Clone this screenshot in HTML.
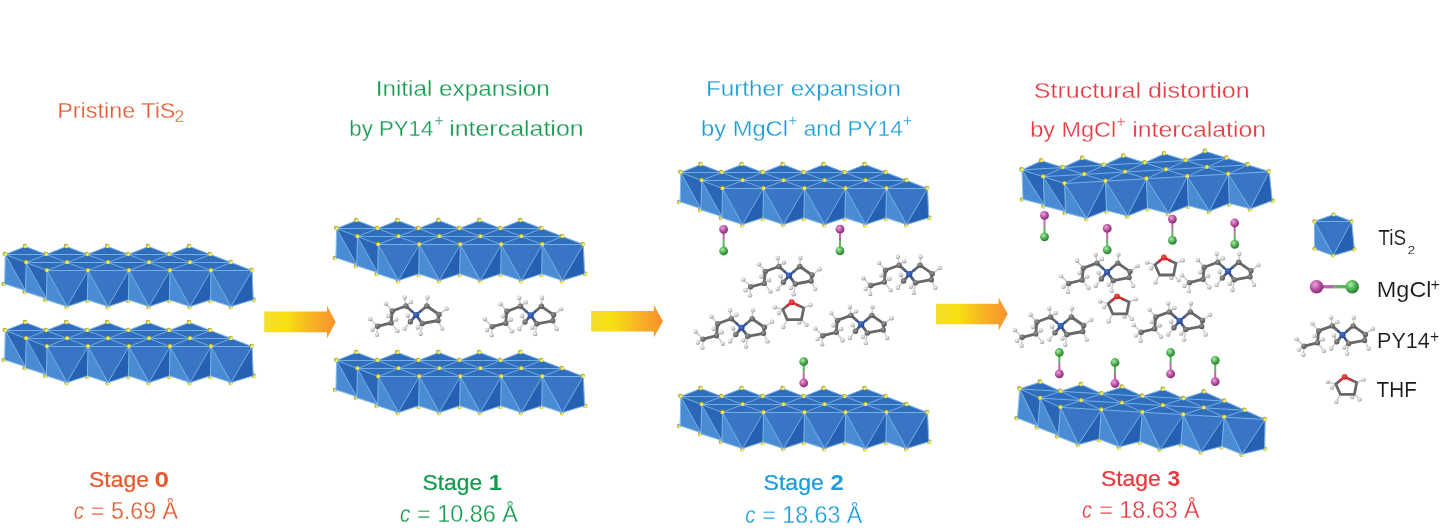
<!DOCTYPE html>
<html><head><meta charset="utf-8"><title>TiS2 intercalation stages</title>
<style>html,body{margin:0;padding:0;background:#fff}svg{display:block;will-change:transform}text{font-family:"Liberation Sans",sans-serif}</style></head>
<body><svg width="1440" height="530" viewBox="0 0 1440 530">
<rect width="1440" height="530" fill="#fff"/>
<defs>
<linearGradient id="ga" x1="0" x2="1" y1="0" y2="0"><stop offset="0" stop-color="#f5de2e"/><stop offset="0.3" stop-color="#f7e011"/><stop offset="0.65" stop-color="#f8b524"/><stop offset="1" stop-color="#f8902e"/></linearGradient>
<radialGradient id="gy" cx="0.6" cy="0.6" r="0.7"><stop offset="0" stop-color="#f9f8ae"/><stop offset="0.35" stop-color="#e7e452"/><stop offset="0.7" stop-color="#b3af36"/><stop offset="1" stop-color="#6c691a"/></radialGradient>
<radialGradient id="gh" cx="0.4" cy="0.35" r="0.7"><stop offset="0" stop-color="#f4f4f4"/><stop offset="0.5" stop-color="#d2d2d2"/><stop offset="1" stop-color="#868686"/></radialGradient>
<radialGradient id="gc" cx="0.4" cy="0.35" r="0.7"><stop offset="0" stop-color="#9a9a9a"/><stop offset="1" stop-color="#4c4c4c"/></radialGradient>
<radialGradient id="gn" cx="0.4" cy="0.35" r="0.7"><stop offset="0" stop-color="#4a74c8"/><stop offset="1" stop-color="#24418c"/></radialGradient>
<radialGradient id="go" cx="0.4" cy="0.35" r="0.7"><stop offset="0" stop-color="#f25a55"/><stop offset="1" stop-color="#c8161c"/></radialGradient>
<radialGradient id="gm" cx="0.38" cy="0.35" r="0.75"><stop offset="0" stop-color="#eba4dc"/><stop offset="0.5" stop-color="#b94fa2"/><stop offset="1" stop-color="#74215f"/></radialGradient>
<radialGradient id="gg" cx="0.38" cy="0.35" r="0.75"><stop offset="0" stop-color="#aeeaaa"/><stop offset="0.5" stop-color="#4bae4f"/><stop offset="1" stop-color="#226a2b"/></radialGradient>

<g id="py14">
<g stroke="#cbcbcb" stroke-width="1.5" stroke-linecap="round">
<line x1="-38.5" y1="11.3" x2="-45.9" y2="4.0"/>
<line x1="-38.5" y1="11.3" x2="-43.6" y2="14.7"/>
<line x1="-38.5" y1="11.3" x2="-39.1" y2="19.8"/>
<line x1="-25.0" y1="7.9" x2="-18.7" y2="15.9"/>
<line x1="-25.0" y1="7.9" x2="-19.9" y2="4.5"/>
<line x1="-23.8" y1="-4.0" x2="-30.1" y2="-11.3"/>
<line x1="-23.8" y1="-4.0" x2="-27.8" y2="1.0"/>
<line x1="-10.2" y1="-9.0" x2="-11.4" y2="-17.5"/>
<line x1="-10.2" y1="-9.0" x2="-5.1" y2="-13.0"/>
<line x1="10.7" y1="-9.0" x2="11.3" y2="-17.5"/>
<line x1="22.9" y1="-0.5" x2="30.5" y2="-6.2"/>
<line x1="22.0" y1="5.5" x2="26.0" y2="13.6"/>
<line x1="6.2" y1="8.5" x2="4.5" y2="18.7"/>
<line x1="6.2" y1="8.5" x2="1.7" y2="12.5"/>
<line x1="-5.7" y1="6.8" x2="-11.4" y2="13.6"/>
<line x1="-5.7" y1="6.8" x2="-8.5" y2="0.5"/>
</g>
<g fill="url(#gh)">
<circle cx="-45.9" cy="4.0" r="2.2"/>
<circle cx="-43.6" cy="14.7" r="2.2"/>
<circle cx="-39.1" cy="19.8" r="2.2"/>
<circle cx="-18.7" cy="15.9" r="2.2"/>
<circle cx="-19.9" cy="4.5" r="2.2"/>
<circle cx="-30.1" cy="-11.3" r="2.2"/>
<circle cx="-27.8" cy="1.0" r="2.2"/>
<circle cx="-11.4" cy="-17.5" r="2.2"/>
<circle cx="-5.1" cy="-13.0" r="2.2"/>
<circle cx="11.3" cy="-17.5" r="2.2"/>
<circle cx="30.5" cy="-6.2" r="2.2"/>
<circle cx="26.0" cy="13.6" r="2.2"/>
<circle cx="4.5" cy="18.7" r="2.2"/>
<circle cx="1.7" cy="12.5" r="2.2"/>
<circle cx="-11.4" cy="13.6" r="2.2"/>
<circle cx="-8.5" cy="0.5" r="2.2"/>
</g>
<g stroke="#686868" stroke-width="2.8" stroke-linecap="round">
<line x1="-38.5" y1="11.3" x2="-25.0" y2="7.9"/>
<line x1="-25.0" y1="7.9" x2="-23.8" y2="-4.0"/>
<line x1="-23.8" y1="-4.0" x2="-10.2" y2="-9.0"/>
<line x1="10.7" y1="-9.0" x2="22.9" y2="-0.5"/>
<line x1="22.9" y1="-0.5" x2="22.0" y2="5.5"/>
<line x1="22.0" y1="5.5" x2="6.2" y2="8.5"/>
<line x1="-10.2" y1="-9.0" x2="-4.3" y2="-3.8"/>
<line x1="10.7" y1="-9.0" x2="4.5" y2="-3.8"/>
<line x1="6.2" y1="8.5" x2="2.6" y2="3.6"/>
<line x1="-5.7" y1="6.8" x2="-2.4" y2="2.9"/>
</g>
<g stroke="#3358a8" stroke-width="2.3" stroke-linecap="round">
<line x1="0" y1="0" x2="-4.3" y2="-3.8"/>
<line x1="0" y1="0" x2="4.5" y2="-3.8"/>
<line x1="0" y1="0" x2="2.6" y2="3.6"/>
<line x1="0" y1="0" x2="-2.4" y2="2.9"/>
</g>
<g fill="url(#gc)">
<circle cx="-38.5" cy="11.3" r="2.7"/>
<circle cx="-25.0" cy="7.9" r="2.7"/>
<circle cx="-23.8" cy="-4.0" r="2.7"/>
<circle cx="-10.2" cy="-9.0" r="2.7"/>
<circle cx="10.7" cy="-9.0" r="2.7"/>
<circle cx="22.9" cy="-0.5" r="2.7"/>
<circle cx="22.0" cy="5.5" r="2.7"/>
<circle cx="6.2" cy="8.5" r="2.7"/>
<circle cx="-5.7" cy="6.8" r="2.7"/>
</g>
<circle cx="0" cy="0" r="3.1" fill="url(#gn)"/>
</g>
<g id="thf">
<g stroke="#cbcbcb" stroke-width="1.5" stroke-linecap="round">
<line x1="-8.8" y1="7.3" x2="-16.8" y2="5.1"/>
<line x1="-8.8" y1="7.3" x2="-12.8" y2="10.8"/>
<line x1="-4.3" y1="17.5" x2="-8.3" y2="24.9"/>
<line x1="9.8" y1="17.5" x2="14.9" y2="22.6"/>
<line x1="9.8" y1="17.5" x2="7.6" y2="20.2"/>
<line x1="12.1" y1="5.7" x2="18.9" y2="2.8"/>
</g><g fill="url(#gh)">
<circle cx="-16.8" cy="5.1" r="2.2"/>
<circle cx="-12.8" cy="10.8" r="2.2"/>
<circle cx="-8.3" cy="24.9" r="2.2"/>
<circle cx="14.9" cy="22.6" r="2.2"/>
<circle cx="7.6" cy="20.2" r="2.2"/>
<circle cx="18.9" cy="2.8" r="2.2"/>
</g>
<g stroke="#686868" stroke-width="2.8" stroke-linecap="round" stroke-linejoin="round" fill="none">
<polyline points="-4.4,3.6 -8.8,7.3 -4.3,17.5 9.8,17.5 12.1,5.7 6.0,2.9"/>
</g>
<g stroke="#e2262a" stroke-width="2.5" stroke-linecap="round" stroke-linejoin="round" fill="none">
<polyline points="-4.4,3.6 0.0,0.0 6.0,2.9"/>
</g>
<circle cx="0" cy="0" r="2.9" fill="url(#go)"/>
</g>
</defs>
<g transform="translate(5.3,254.5)">
<g fill="url(#gy)">
<circle cx="-1.5" cy="29.5" r="2.3"/>
<circle cx="19.4" cy="37.5" r="2.3"/>
<circle cx="40.2" cy="45.5" r="2.3"/>
<circle cx="61.4" cy="52.6" r="2.3"/>
<circle cx="82.1" cy="46.4" r="2.3"/>
<circle cx="102.4" cy="52.6" r="2.3"/>
<circle cx="123.1" cy="46.4" r="2.3"/>
<circle cx="143.4" cy="52.6" r="2.3"/>
<circle cx="164.1" cy="46.4" r="2.3"/>
<circle cx="184.4" cy="52.6" r="2.3"/>
<circle cx="205.1" cy="46.4" r="2.3"/>
<circle cx="225.4" cy="52.6" r="2.3"/>
<circle cx="248.6" cy="45.4" r="2.3"/>
</g>
<g stroke-width="0.5" stroke-linejoin="round">
<polygon points="0.0,0.0 41.0,0.0 20.1,-8.0" fill="#2f6dbd" stroke="#2f6dbd"/>
<polygon points="0.0,0.0 -0.6,29.3 20.0,36.0" fill="#4a8cd3" stroke="#4a8cd3"/>
<polygon points="0.0,0.0 41.0,0.0 20.0,36.0" fill="#2b66b6" stroke="#2b66b6"/>
<polygon points="41.0,0.0 20.0,36.0 40.4,29.3" fill="#2560b3" stroke="#2560b3"/>
<polygon points="41.0,0.0 82.0,0.0 61.1,-8.0" fill="#2f6dbd" stroke="#2f6dbd"/>
<polygon points="41.0,0.0 40.4,29.3 61.0,36.0" fill="#4a8cd3" stroke="#4a8cd3"/>
<polygon points="41.0,0.0 82.0,0.0 61.0,36.0" fill="#2b66b6" stroke="#2b66b6"/>
<polygon points="82.0,0.0 61.0,36.0 81.4,29.3" fill="#2560b3" stroke="#2560b3"/>
<polygon points="82.0,0.0 123.0,0.0 102.2,-8.0" fill="#2f6dbd" stroke="#2f6dbd"/>
<polygon points="82.0,0.0 81.4,29.3 102.0,36.0" fill="#4a8cd3" stroke="#4a8cd3"/>
<polygon points="82.0,0.0 123.0,0.0 102.0,36.0" fill="#2b66b6" stroke="#2b66b6"/>
<polygon points="123.0,0.0 102.0,36.0 122.4,29.3" fill="#2560b3" stroke="#2560b3"/>
<polygon points="123.0,0.0 164.0,0.0 143.2,-8.0" fill="#2f6dbd" stroke="#2f6dbd"/>
<polygon points="123.0,0.0 122.4,29.3 143.0,36.0" fill="#4a8cd3" stroke="#4a8cd3"/>
<polygon points="123.0,0.0 164.0,0.0 143.0,36.0" fill="#2b66b6" stroke="#2b66b6"/>
<polygon points="164.0,0.0 143.0,36.0 163.4,29.3" fill="#2560b3" stroke="#2560b3"/>
<polygon points="164.0,0.0 205.0,0.0 184.2,-8.0" fill="#2f6dbd" stroke="#2f6dbd"/>
<polygon points="164.0,0.0 163.4,29.3 184.0,36.0" fill="#4a8cd3" stroke="#4a8cd3"/>
<polygon points="164.0,0.0 205.0,0.0 184.0,36.0" fill="#2b66b6" stroke="#2b66b6"/>
<polygon points="205.0,0.0 184.0,36.0 204.4,29.3" fill="#2560b3" stroke="#2560b3"/>
<polygon points="20.9,8.0 0.0,0.0 41.0,0.0" fill="#2f6dbd" stroke="#2f6dbd"/>
<polygon points="20.9,8.0 61.9,8.0 41.0,0.0" fill="#2f6dbd" stroke="#2f6dbd"/>
<polygon points="20.9,8.0 20.2,37.3 40.9,44.0" fill="#4a8cd3" stroke="#4a8cd3"/>
<polygon points="20.9,8.0 61.9,8.0 40.9,44.0" fill="#2b66b6" stroke="#2b66b6"/>
<polygon points="61.9,8.0 40.9,44.0 61.2,37.3" fill="#2560b3" stroke="#2560b3"/>
<polygon points="61.9,8.0 41.0,0.0 82.0,0.0" fill="#2f6dbd" stroke="#2f6dbd"/>
<polygon points="61.9,8.0 102.8,8.0 82.0,0.0" fill="#2f6dbd" stroke="#2f6dbd"/>
<polygon points="61.9,8.0 61.2,37.3 81.8,44.0" fill="#4a8cd3" stroke="#4a8cd3"/>
<polygon points="61.9,8.0 102.8,8.0 81.8,44.0" fill="#2b66b6" stroke="#2b66b6"/>
<polygon points="102.8,8.0 81.8,44.0 102.2,37.3" fill="#2560b3" stroke="#2560b3"/>
<polygon points="102.8,8.0 82.0,0.0 123.0,0.0" fill="#2f6dbd" stroke="#2f6dbd"/>
<polygon points="102.8,8.0 143.8,8.0 123.0,0.0" fill="#2f6dbd" stroke="#2f6dbd"/>
<polygon points="102.8,8.0 102.2,37.3 122.8,44.0" fill="#4a8cd3" stroke="#4a8cd3"/>
<polygon points="102.8,8.0 143.8,8.0 122.8,44.0" fill="#2b66b6" stroke="#2b66b6"/>
<polygon points="143.8,8.0 122.8,44.0 143.2,37.3" fill="#2560b3" stroke="#2560b3"/>
<polygon points="143.8,8.0 123.0,0.0 164.0,0.0" fill="#2f6dbd" stroke="#2f6dbd"/>
<polygon points="143.8,8.0 184.8,8.0 164.0,0.0" fill="#2f6dbd" stroke="#2f6dbd"/>
<polygon points="143.8,8.0 143.2,37.3 163.8,44.0" fill="#4a8cd3" stroke="#4a8cd3"/>
<polygon points="143.8,8.0 184.8,8.0 163.8,44.0" fill="#2b66b6" stroke="#2b66b6"/>
<polygon points="184.8,8.0 163.8,44.0 184.2,37.3" fill="#2560b3" stroke="#2560b3"/>
<polygon points="184.8,8.0 164.0,0.0 205.0,0.0" fill="#2f6dbd" stroke="#2f6dbd"/>
<polygon points="184.8,8.0 225.8,8.0 205.0,0.0" fill="#2f6dbd" stroke="#2f6dbd"/>
<polygon points="184.8,8.0 184.2,37.3 204.8,44.0" fill="#4a8cd3" stroke="#4a8cd3"/>
<polygon points="184.8,8.0 225.8,8.0 204.8,44.0" fill="#2b66b6" stroke="#2b66b6"/>
<polygon points="225.8,8.0 204.8,44.0 225.2,37.3" fill="#2560b3" stroke="#2560b3"/>
<polygon points="41.7,16.0 20.9,8.0 61.9,8.0" fill="#2f6dbd" stroke="#2f6dbd"/>
<polygon points="41.7,16.0 82.7,16.0 61.9,8.0" fill="#2f6dbd" stroke="#2f6dbd"/>
<polygon points="41.7,16.0 41.1,45.3 61.7,52.0" fill="#4a8cd3" stroke="#4a8cd3"/>
<polygon points="41.7,16.0 82.7,16.0 61.7,52.0" fill="#3875c4" stroke="#3875c4"/>
<polygon points="82.7,16.0 61.7,52.0 82.1,45.3" fill="#2560b3" stroke="#2560b3"/>
<polygon points="82.7,16.0 61.9,8.0 102.8,8.0" fill="#2f6dbd" stroke="#2f6dbd"/>
<polygon points="82.7,16.0 123.7,16.0 102.8,8.0" fill="#2f6dbd" stroke="#2f6dbd"/>
<polygon points="82.7,16.0 82.1,45.3 102.7,52.0" fill="#4a8cd3" stroke="#4a8cd3"/>
<polygon points="82.7,16.0 123.7,16.0 102.7,52.0" fill="#3875c4" stroke="#3875c4"/>
<polygon points="123.7,16.0 102.7,52.0 123.1,45.3" fill="#2560b3" stroke="#2560b3"/>
<polygon points="123.7,16.0 102.8,8.0 143.8,8.0" fill="#2f6dbd" stroke="#2f6dbd"/>
<polygon points="123.7,16.0 164.7,16.0 143.8,8.0" fill="#2f6dbd" stroke="#2f6dbd"/>
<polygon points="123.7,16.0 123.1,45.3 143.7,52.0" fill="#4a8cd3" stroke="#4a8cd3"/>
<polygon points="123.7,16.0 164.7,16.0 143.7,52.0" fill="#3875c4" stroke="#3875c4"/>
<polygon points="164.7,16.0 143.7,52.0 164.1,45.3" fill="#2560b3" stroke="#2560b3"/>
<polygon points="164.7,16.0 143.8,8.0 184.8,8.0" fill="#2f6dbd" stroke="#2f6dbd"/>
<polygon points="164.7,16.0 205.7,16.0 184.8,8.0" fill="#2f6dbd" stroke="#2f6dbd"/>
<polygon points="164.7,16.0 164.1,45.3 184.7,52.0" fill="#4a8cd3" stroke="#4a8cd3"/>
<polygon points="164.7,16.0 205.7,16.0 184.7,52.0" fill="#3875c4" stroke="#3875c4"/>
<polygon points="205.7,16.0 184.7,52.0 205.1,45.3" fill="#2560b3" stroke="#2560b3"/>
<polygon points="205.7,16.0 184.8,8.0 225.8,8.0" fill="#2f6dbd" stroke="#2f6dbd"/>
<polygon points="205.7,16.0 246.7,16.0 225.8,8.0" fill="#2f6dbd" stroke="#2f6dbd"/>
<polygon points="205.7,16.0 205.1,45.3 225.7,52.0" fill="#4a8cd3" stroke="#4a8cd3"/>
<polygon points="205.7,16.0 246.7,16.0 225.7,52.0" fill="#3875c4" stroke="#3875c4"/>
<polygon points="246.7,16.0 225.7,52.0 247.9,45.2" fill="#2560b3" stroke="#2560b3"/>
</g>
<g stroke="#8cc3ee" stroke-width="0.75" stroke-linecap="round" fill="none">
<line x1="0.0" y1="0.0" x2="-0.6" y2="29.3"/>
<line x1="0.0" y1="0.0" x2="20.0" y2="36.0"/>
<line x1="-0.6" y1="29.3" x2="20.0" y2="36.0"/>
<line x1="20.9" y1="8.0" x2="20.2" y2="37.3"/>
<line x1="20.9" y1="8.0" x2="40.9" y2="44.0"/>
<line x1="20.2" y1="37.3" x2="40.9" y2="44.0"/>
<line x1="41.7" y1="16.0" x2="41.1" y2="45.3"/>
<line x1="41.7" y1="16.0" x2="61.7" y2="52.0"/>
<line x1="41.1" y1="45.3" x2="61.7" y2="52.0"/>
<line x1="82.7" y1="16.0" x2="61.7" y2="52.0"/>
<line x1="61.7" y1="52.0" x2="82.1" y2="45.3"/>
<line x1="82.7" y1="16.0" x2="82.1" y2="45.3"/>
<line x1="82.7" y1="16.0" x2="102.7" y2="52.0"/>
<line x1="82.1" y1="45.3" x2="102.7" y2="52.0"/>
<line x1="123.7" y1="16.0" x2="102.7" y2="52.0"/>
<line x1="102.7" y1="52.0" x2="123.1" y2="45.3"/>
<line x1="123.7" y1="16.0" x2="123.1" y2="45.3"/>
<line x1="123.7" y1="16.0" x2="143.7" y2="52.0"/>
<line x1="123.1" y1="45.3" x2="143.7" y2="52.0"/>
<line x1="164.7" y1="16.0" x2="143.7" y2="52.0"/>
<line x1="143.7" y1="52.0" x2="164.1" y2="45.3"/>
<line x1="164.7" y1="16.0" x2="164.1" y2="45.3"/>
<line x1="164.7" y1="16.0" x2="184.7" y2="52.0"/>
<line x1="164.1" y1="45.3" x2="184.7" y2="52.0"/>
<line x1="205.7" y1="16.0" x2="184.7" y2="52.0"/>
<line x1="184.7" y1="52.0" x2="205.1" y2="45.3"/>
<line x1="205.7" y1="16.0" x2="205.1" y2="45.3"/>
<line x1="205.7" y1="16.0" x2="225.7" y2="52.0"/>
<line x1="205.1" y1="45.3" x2="225.7" y2="52.0"/>
<line x1="246.7" y1="16.0" x2="225.7" y2="52.0"/>
<line x1="225.7" y1="52.0" x2="247.9" y2="45.2"/>
<line x1="246.7" y1="16.0" x2="247.9" y2="45.2"/>
<line x1="0.0" y1="0.0" x2="205.0" y2="0.0"/>
<line x1="20.9" y1="8.0" x2="225.8" y2="8.0"/>
<line x1="41.7" y1="16.0" x2="246.7" y2="16.0"/>
<line x1="0.0" y1="0.0" x2="41.7" y2="16.0"/>
<line x1="20.1" y1="-8.0" x2="82.7" y2="16.0"/>
<line x1="61.1" y1="-8.0" x2="123.7" y2="16.0"/>
<line x1="102.2" y1="-8.0" x2="164.7" y2="16.0"/>
<line x1="143.2" y1="-8.0" x2="205.7" y2="16.0"/>
<line x1="184.2" y1="-8.0" x2="246.7" y2="16.0"/>
<line x1="0.0" y1="0.0" x2="20.1" y2="-8.0"/>
<line x1="20.9" y1="8.0" x2="61.1" y2="-8.0"/>
<line x1="41.7" y1="16.0" x2="102.2" y2="-8.0"/>
<line x1="82.7" y1="16.0" x2="143.2" y2="-8.0"/>
<line x1="123.7" y1="16.0" x2="184.2" y2="-8.0"/>
<line x1="164.7" y1="16.0" x2="205.0" y2="0.0"/>
<line x1="205.7" y1="16.0" x2="225.8" y2="8.0"/>
</g>
<g fill="url(#gy)">
<circle cx="-0.3" cy="-0.5" r="2.3"/>
<circle cx="40.7" cy="-0.5" r="2.3"/>
<circle cx="81.7" cy="-0.5" r="2.3"/>
<circle cx="122.7" cy="-0.5" r="2.3"/>
<circle cx="163.7" cy="-0.5" r="2.3"/>
<circle cx="204.7" cy="-0.5" r="2.3"/>
<circle cx="20.6" cy="7.5" r="2.3"/>
<circle cx="61.6" cy="7.5" r="2.3"/>
<circle cx="102.5" cy="7.5" r="2.3"/>
<circle cx="143.5" cy="7.5" r="2.3"/>
<circle cx="184.5" cy="7.5" r="2.3"/>
<circle cx="225.5" cy="7.5" r="2.3"/>
<circle cx="41.4" cy="15.5" r="2.3"/>
<circle cx="82.4" cy="15.5" r="2.3"/>
<circle cx="123.4" cy="15.5" r="2.3"/>
<circle cx="164.4" cy="15.5" r="2.3"/>
<circle cx="205.4" cy="15.5" r="2.3"/>
<circle cx="246.4" cy="15.5" r="2.3"/>
<circle cx="19.8" cy="-8.5" r="2.3"/>
<circle cx="60.9" cy="-8.5" r="2.3"/>
<circle cx="101.9" cy="-8.5" r="2.3"/>
<circle cx="142.8" cy="-8.5" r="2.3"/>
<circle cx="183.8" cy="-8.5" r="2.3"/>
</g></g>
<g transform="translate(5.3,330.5)">
<g fill="url(#gy)">
<circle cx="-1.5" cy="29.5" r="2.3"/>
<circle cx="19.4" cy="37.5" r="2.3"/>
<circle cx="40.2" cy="45.5" r="2.3"/>
<circle cx="61.4" cy="52.6" r="2.3"/>
<circle cx="82.1" cy="46.4" r="2.3"/>
<circle cx="102.4" cy="52.6" r="2.3"/>
<circle cx="123.1" cy="46.4" r="2.3"/>
<circle cx="143.4" cy="52.6" r="2.3"/>
<circle cx="164.1" cy="46.4" r="2.3"/>
<circle cx="184.4" cy="52.6" r="2.3"/>
<circle cx="205.1" cy="46.4" r="2.3"/>
<circle cx="225.4" cy="52.6" r="2.3"/>
<circle cx="248.6" cy="45.4" r="2.3"/>
</g>
<g stroke-width="0.5" stroke-linejoin="round">
<polygon points="0.0,0.0 41.0,0.0 20.1,-8.0" fill="#2f6dbd" stroke="#2f6dbd"/>
<polygon points="0.0,0.0 -0.6,29.3 20.0,36.0" fill="#4a8cd3" stroke="#4a8cd3"/>
<polygon points="0.0,0.0 41.0,0.0 20.0,36.0" fill="#2b66b6" stroke="#2b66b6"/>
<polygon points="41.0,0.0 20.0,36.0 40.4,29.3" fill="#2560b3" stroke="#2560b3"/>
<polygon points="41.0,0.0 82.0,0.0 61.1,-8.0" fill="#2f6dbd" stroke="#2f6dbd"/>
<polygon points="41.0,0.0 40.4,29.3 61.0,36.0" fill="#4a8cd3" stroke="#4a8cd3"/>
<polygon points="41.0,0.0 82.0,0.0 61.0,36.0" fill="#2b66b6" stroke="#2b66b6"/>
<polygon points="82.0,0.0 61.0,36.0 81.4,29.3" fill="#2560b3" stroke="#2560b3"/>
<polygon points="82.0,0.0 123.0,0.0 102.2,-8.0" fill="#2f6dbd" stroke="#2f6dbd"/>
<polygon points="82.0,0.0 81.4,29.3 102.0,36.0" fill="#4a8cd3" stroke="#4a8cd3"/>
<polygon points="82.0,0.0 123.0,0.0 102.0,36.0" fill="#2b66b6" stroke="#2b66b6"/>
<polygon points="123.0,0.0 102.0,36.0 122.4,29.3" fill="#2560b3" stroke="#2560b3"/>
<polygon points="123.0,0.0 164.0,0.0 143.2,-8.0" fill="#2f6dbd" stroke="#2f6dbd"/>
<polygon points="123.0,0.0 122.4,29.3 143.0,36.0" fill="#4a8cd3" stroke="#4a8cd3"/>
<polygon points="123.0,0.0 164.0,0.0 143.0,36.0" fill="#2b66b6" stroke="#2b66b6"/>
<polygon points="164.0,0.0 143.0,36.0 163.4,29.3" fill="#2560b3" stroke="#2560b3"/>
<polygon points="164.0,0.0 205.0,0.0 184.2,-8.0" fill="#2f6dbd" stroke="#2f6dbd"/>
<polygon points="164.0,0.0 163.4,29.3 184.0,36.0" fill="#4a8cd3" stroke="#4a8cd3"/>
<polygon points="164.0,0.0 205.0,0.0 184.0,36.0" fill="#2b66b6" stroke="#2b66b6"/>
<polygon points="205.0,0.0 184.0,36.0 204.4,29.3" fill="#2560b3" stroke="#2560b3"/>
<polygon points="20.9,8.0 0.0,0.0 41.0,0.0" fill="#2f6dbd" stroke="#2f6dbd"/>
<polygon points="20.9,8.0 61.9,8.0 41.0,0.0" fill="#2f6dbd" stroke="#2f6dbd"/>
<polygon points="20.9,8.0 20.2,37.3 40.9,44.0" fill="#4a8cd3" stroke="#4a8cd3"/>
<polygon points="20.9,8.0 61.9,8.0 40.9,44.0" fill="#2b66b6" stroke="#2b66b6"/>
<polygon points="61.9,8.0 40.9,44.0 61.2,37.3" fill="#2560b3" stroke="#2560b3"/>
<polygon points="61.9,8.0 41.0,0.0 82.0,0.0" fill="#2f6dbd" stroke="#2f6dbd"/>
<polygon points="61.9,8.0 102.8,8.0 82.0,0.0" fill="#2f6dbd" stroke="#2f6dbd"/>
<polygon points="61.9,8.0 61.2,37.3 81.8,44.0" fill="#4a8cd3" stroke="#4a8cd3"/>
<polygon points="61.9,8.0 102.8,8.0 81.8,44.0" fill="#2b66b6" stroke="#2b66b6"/>
<polygon points="102.8,8.0 81.8,44.0 102.2,37.3" fill="#2560b3" stroke="#2560b3"/>
<polygon points="102.8,8.0 82.0,0.0 123.0,0.0" fill="#2f6dbd" stroke="#2f6dbd"/>
<polygon points="102.8,8.0 143.8,8.0 123.0,0.0" fill="#2f6dbd" stroke="#2f6dbd"/>
<polygon points="102.8,8.0 102.2,37.3 122.8,44.0" fill="#4a8cd3" stroke="#4a8cd3"/>
<polygon points="102.8,8.0 143.8,8.0 122.8,44.0" fill="#2b66b6" stroke="#2b66b6"/>
<polygon points="143.8,8.0 122.8,44.0 143.2,37.3" fill="#2560b3" stroke="#2560b3"/>
<polygon points="143.8,8.0 123.0,0.0 164.0,0.0" fill="#2f6dbd" stroke="#2f6dbd"/>
<polygon points="143.8,8.0 184.8,8.0 164.0,0.0" fill="#2f6dbd" stroke="#2f6dbd"/>
<polygon points="143.8,8.0 143.2,37.3 163.8,44.0" fill="#4a8cd3" stroke="#4a8cd3"/>
<polygon points="143.8,8.0 184.8,8.0 163.8,44.0" fill="#2b66b6" stroke="#2b66b6"/>
<polygon points="184.8,8.0 163.8,44.0 184.2,37.3" fill="#2560b3" stroke="#2560b3"/>
<polygon points="184.8,8.0 164.0,0.0 205.0,0.0" fill="#2f6dbd" stroke="#2f6dbd"/>
<polygon points="184.8,8.0 225.8,8.0 205.0,0.0" fill="#2f6dbd" stroke="#2f6dbd"/>
<polygon points="184.8,8.0 184.2,37.3 204.8,44.0" fill="#4a8cd3" stroke="#4a8cd3"/>
<polygon points="184.8,8.0 225.8,8.0 204.8,44.0" fill="#2b66b6" stroke="#2b66b6"/>
<polygon points="225.8,8.0 204.8,44.0 225.2,37.3" fill="#2560b3" stroke="#2560b3"/>
<polygon points="41.7,16.0 20.9,8.0 61.9,8.0" fill="#2f6dbd" stroke="#2f6dbd"/>
<polygon points="41.7,16.0 82.7,16.0 61.9,8.0" fill="#2f6dbd" stroke="#2f6dbd"/>
<polygon points="41.7,16.0 41.1,45.3 61.7,52.0" fill="#4a8cd3" stroke="#4a8cd3"/>
<polygon points="41.7,16.0 82.7,16.0 61.7,52.0" fill="#3875c4" stroke="#3875c4"/>
<polygon points="82.7,16.0 61.7,52.0 82.1,45.3" fill="#2560b3" stroke="#2560b3"/>
<polygon points="82.7,16.0 61.9,8.0 102.8,8.0" fill="#2f6dbd" stroke="#2f6dbd"/>
<polygon points="82.7,16.0 123.7,16.0 102.8,8.0" fill="#2f6dbd" stroke="#2f6dbd"/>
<polygon points="82.7,16.0 82.1,45.3 102.7,52.0" fill="#4a8cd3" stroke="#4a8cd3"/>
<polygon points="82.7,16.0 123.7,16.0 102.7,52.0" fill="#3875c4" stroke="#3875c4"/>
<polygon points="123.7,16.0 102.7,52.0 123.1,45.3" fill="#2560b3" stroke="#2560b3"/>
<polygon points="123.7,16.0 102.8,8.0 143.8,8.0" fill="#2f6dbd" stroke="#2f6dbd"/>
<polygon points="123.7,16.0 164.7,16.0 143.8,8.0" fill="#2f6dbd" stroke="#2f6dbd"/>
<polygon points="123.7,16.0 123.1,45.3 143.7,52.0" fill="#4a8cd3" stroke="#4a8cd3"/>
<polygon points="123.7,16.0 164.7,16.0 143.7,52.0" fill="#3875c4" stroke="#3875c4"/>
<polygon points="164.7,16.0 143.7,52.0 164.1,45.3" fill="#2560b3" stroke="#2560b3"/>
<polygon points="164.7,16.0 143.8,8.0 184.8,8.0" fill="#2f6dbd" stroke="#2f6dbd"/>
<polygon points="164.7,16.0 205.7,16.0 184.8,8.0" fill="#2f6dbd" stroke="#2f6dbd"/>
<polygon points="164.7,16.0 164.1,45.3 184.7,52.0" fill="#4a8cd3" stroke="#4a8cd3"/>
<polygon points="164.7,16.0 205.7,16.0 184.7,52.0" fill="#3875c4" stroke="#3875c4"/>
<polygon points="205.7,16.0 184.7,52.0 205.1,45.3" fill="#2560b3" stroke="#2560b3"/>
<polygon points="205.7,16.0 184.8,8.0 225.8,8.0" fill="#2f6dbd" stroke="#2f6dbd"/>
<polygon points="205.7,16.0 246.7,16.0 225.8,8.0" fill="#2f6dbd" stroke="#2f6dbd"/>
<polygon points="205.7,16.0 205.1,45.3 225.7,52.0" fill="#4a8cd3" stroke="#4a8cd3"/>
<polygon points="205.7,16.0 246.7,16.0 225.7,52.0" fill="#3875c4" stroke="#3875c4"/>
<polygon points="246.7,16.0 225.7,52.0 247.9,45.2" fill="#2560b3" stroke="#2560b3"/>
</g>
<g stroke="#8cc3ee" stroke-width="0.75" stroke-linecap="round" fill="none">
<line x1="0.0" y1="0.0" x2="-0.6" y2="29.3"/>
<line x1="0.0" y1="0.0" x2="20.0" y2="36.0"/>
<line x1="-0.6" y1="29.3" x2="20.0" y2="36.0"/>
<line x1="20.9" y1="8.0" x2="20.2" y2="37.3"/>
<line x1="20.9" y1="8.0" x2="40.9" y2="44.0"/>
<line x1="20.2" y1="37.3" x2="40.9" y2="44.0"/>
<line x1="41.7" y1="16.0" x2="41.1" y2="45.3"/>
<line x1="41.7" y1="16.0" x2="61.7" y2="52.0"/>
<line x1="41.1" y1="45.3" x2="61.7" y2="52.0"/>
<line x1="82.7" y1="16.0" x2="61.7" y2="52.0"/>
<line x1="61.7" y1="52.0" x2="82.1" y2="45.3"/>
<line x1="82.7" y1="16.0" x2="82.1" y2="45.3"/>
<line x1="82.7" y1="16.0" x2="102.7" y2="52.0"/>
<line x1="82.1" y1="45.3" x2="102.7" y2="52.0"/>
<line x1="123.7" y1="16.0" x2="102.7" y2="52.0"/>
<line x1="102.7" y1="52.0" x2="123.1" y2="45.3"/>
<line x1="123.7" y1="16.0" x2="123.1" y2="45.3"/>
<line x1="123.7" y1="16.0" x2="143.7" y2="52.0"/>
<line x1="123.1" y1="45.3" x2="143.7" y2="52.0"/>
<line x1="164.7" y1="16.0" x2="143.7" y2="52.0"/>
<line x1="143.7" y1="52.0" x2="164.1" y2="45.3"/>
<line x1="164.7" y1="16.0" x2="164.1" y2="45.3"/>
<line x1="164.7" y1="16.0" x2="184.7" y2="52.0"/>
<line x1="164.1" y1="45.3" x2="184.7" y2="52.0"/>
<line x1="205.7" y1="16.0" x2="184.7" y2="52.0"/>
<line x1="184.7" y1="52.0" x2="205.1" y2="45.3"/>
<line x1="205.7" y1="16.0" x2="205.1" y2="45.3"/>
<line x1="205.7" y1="16.0" x2="225.7" y2="52.0"/>
<line x1="205.1" y1="45.3" x2="225.7" y2="52.0"/>
<line x1="246.7" y1="16.0" x2="225.7" y2="52.0"/>
<line x1="225.7" y1="52.0" x2="247.9" y2="45.2"/>
<line x1="246.7" y1="16.0" x2="247.9" y2="45.2"/>
<line x1="0.0" y1="0.0" x2="205.0" y2="0.0"/>
<line x1="20.9" y1="8.0" x2="225.8" y2="8.0"/>
<line x1="41.7" y1="16.0" x2="246.7" y2="16.0"/>
<line x1="0.0" y1="0.0" x2="41.7" y2="16.0"/>
<line x1="20.1" y1="-8.0" x2="82.7" y2="16.0"/>
<line x1="61.1" y1="-8.0" x2="123.7" y2="16.0"/>
<line x1="102.2" y1="-8.0" x2="164.7" y2="16.0"/>
<line x1="143.2" y1="-8.0" x2="205.7" y2="16.0"/>
<line x1="184.2" y1="-8.0" x2="246.7" y2="16.0"/>
<line x1="0.0" y1="0.0" x2="20.1" y2="-8.0"/>
<line x1="20.9" y1="8.0" x2="61.1" y2="-8.0"/>
<line x1="41.7" y1="16.0" x2="102.2" y2="-8.0"/>
<line x1="82.7" y1="16.0" x2="143.2" y2="-8.0"/>
<line x1="123.7" y1="16.0" x2="184.2" y2="-8.0"/>
<line x1="164.7" y1="16.0" x2="205.0" y2="0.0"/>
<line x1="205.7" y1="16.0" x2="225.8" y2="8.0"/>
</g>
<g fill="url(#gy)">
<circle cx="-0.3" cy="-0.5" r="2.3"/>
<circle cx="40.7" cy="-0.5" r="2.3"/>
<circle cx="81.7" cy="-0.5" r="2.3"/>
<circle cx="122.7" cy="-0.5" r="2.3"/>
<circle cx="163.7" cy="-0.5" r="2.3"/>
<circle cx="204.7" cy="-0.5" r="2.3"/>
<circle cx="20.6" cy="7.5" r="2.3"/>
<circle cx="61.6" cy="7.5" r="2.3"/>
<circle cx="102.5" cy="7.5" r="2.3"/>
<circle cx="143.5" cy="7.5" r="2.3"/>
<circle cx="184.5" cy="7.5" r="2.3"/>
<circle cx="225.5" cy="7.5" r="2.3"/>
<circle cx="41.4" cy="15.5" r="2.3"/>
<circle cx="82.4" cy="15.5" r="2.3"/>
<circle cx="123.4" cy="15.5" r="2.3"/>
<circle cx="164.4" cy="15.5" r="2.3"/>
<circle cx="205.4" cy="15.5" r="2.3"/>
<circle cx="246.4" cy="15.5" r="2.3"/>
<circle cx="19.8" cy="-8.5" r="2.3"/>
<circle cx="60.9" cy="-8.5" r="2.3"/>
<circle cx="101.9" cy="-8.5" r="2.3"/>
<circle cx="142.8" cy="-8.5" r="2.3"/>
<circle cx="183.8" cy="-8.5" r="2.3"/>
</g></g>
<g transform="translate(336.6,228.5)">
<g fill="url(#gy)">
<circle cx="-1.5" cy="29.5" r="2.3"/>
<circle cx="19.4" cy="37.5" r="2.3"/>
<circle cx="40.2" cy="45.5" r="2.3"/>
<circle cx="61.4" cy="52.6" r="2.3"/>
<circle cx="82.1" cy="46.4" r="2.3"/>
<circle cx="102.4" cy="52.6" r="2.3"/>
<circle cx="123.1" cy="46.4" r="2.3"/>
<circle cx="143.4" cy="52.6" r="2.3"/>
<circle cx="164.1" cy="46.4" r="2.3"/>
<circle cx="184.4" cy="52.6" r="2.3"/>
<circle cx="205.1" cy="46.4" r="2.3"/>
<circle cx="225.4" cy="52.6" r="2.3"/>
<circle cx="248.6" cy="45.4" r="2.3"/>
</g>
<g stroke-width="0.5" stroke-linejoin="round">
<polygon points="0.0,0.0 41.0,0.0 20.1,-8.0" fill="#2f6dbd" stroke="#2f6dbd"/>
<polygon points="0.0,0.0 -0.6,29.3 20.0,36.0" fill="#4a8cd3" stroke="#4a8cd3"/>
<polygon points="0.0,0.0 41.0,0.0 20.0,36.0" fill="#2b66b6" stroke="#2b66b6"/>
<polygon points="41.0,0.0 20.0,36.0 40.4,29.3" fill="#2560b3" stroke="#2560b3"/>
<polygon points="41.0,0.0 82.0,0.0 61.1,-8.0" fill="#2f6dbd" stroke="#2f6dbd"/>
<polygon points="41.0,0.0 40.4,29.3 61.0,36.0" fill="#4a8cd3" stroke="#4a8cd3"/>
<polygon points="41.0,0.0 82.0,0.0 61.0,36.0" fill="#2b66b6" stroke="#2b66b6"/>
<polygon points="82.0,0.0 61.0,36.0 81.4,29.3" fill="#2560b3" stroke="#2560b3"/>
<polygon points="82.0,0.0 123.0,0.0 102.2,-8.0" fill="#2f6dbd" stroke="#2f6dbd"/>
<polygon points="82.0,0.0 81.4,29.3 102.0,36.0" fill="#4a8cd3" stroke="#4a8cd3"/>
<polygon points="82.0,0.0 123.0,0.0 102.0,36.0" fill="#2b66b6" stroke="#2b66b6"/>
<polygon points="123.0,0.0 102.0,36.0 122.4,29.3" fill="#2560b3" stroke="#2560b3"/>
<polygon points="123.0,0.0 164.0,0.0 143.2,-8.0" fill="#2f6dbd" stroke="#2f6dbd"/>
<polygon points="123.0,0.0 122.4,29.3 143.0,36.0" fill="#4a8cd3" stroke="#4a8cd3"/>
<polygon points="123.0,0.0 164.0,0.0 143.0,36.0" fill="#2b66b6" stroke="#2b66b6"/>
<polygon points="164.0,0.0 143.0,36.0 163.4,29.3" fill="#2560b3" stroke="#2560b3"/>
<polygon points="164.0,0.0 205.0,0.0 184.2,-8.0" fill="#2f6dbd" stroke="#2f6dbd"/>
<polygon points="164.0,0.0 163.4,29.3 184.0,36.0" fill="#4a8cd3" stroke="#4a8cd3"/>
<polygon points="164.0,0.0 205.0,0.0 184.0,36.0" fill="#2b66b6" stroke="#2b66b6"/>
<polygon points="205.0,0.0 184.0,36.0 204.4,29.3" fill="#2560b3" stroke="#2560b3"/>
<polygon points="20.9,8.0 0.0,0.0 41.0,0.0" fill="#2f6dbd" stroke="#2f6dbd"/>
<polygon points="20.9,8.0 61.9,8.0 41.0,0.0" fill="#2f6dbd" stroke="#2f6dbd"/>
<polygon points="20.9,8.0 20.2,37.3 40.9,44.0" fill="#4a8cd3" stroke="#4a8cd3"/>
<polygon points="20.9,8.0 61.9,8.0 40.9,44.0" fill="#2b66b6" stroke="#2b66b6"/>
<polygon points="61.9,8.0 40.9,44.0 61.2,37.3" fill="#2560b3" stroke="#2560b3"/>
<polygon points="61.9,8.0 41.0,0.0 82.0,0.0" fill="#2f6dbd" stroke="#2f6dbd"/>
<polygon points="61.9,8.0 102.8,8.0 82.0,0.0" fill="#2f6dbd" stroke="#2f6dbd"/>
<polygon points="61.9,8.0 61.2,37.3 81.8,44.0" fill="#4a8cd3" stroke="#4a8cd3"/>
<polygon points="61.9,8.0 102.8,8.0 81.8,44.0" fill="#2b66b6" stroke="#2b66b6"/>
<polygon points="102.8,8.0 81.8,44.0 102.2,37.3" fill="#2560b3" stroke="#2560b3"/>
<polygon points="102.8,8.0 82.0,0.0 123.0,0.0" fill="#2f6dbd" stroke="#2f6dbd"/>
<polygon points="102.8,8.0 143.8,8.0 123.0,0.0" fill="#2f6dbd" stroke="#2f6dbd"/>
<polygon points="102.8,8.0 102.2,37.3 122.8,44.0" fill="#4a8cd3" stroke="#4a8cd3"/>
<polygon points="102.8,8.0 143.8,8.0 122.8,44.0" fill="#2b66b6" stroke="#2b66b6"/>
<polygon points="143.8,8.0 122.8,44.0 143.2,37.3" fill="#2560b3" stroke="#2560b3"/>
<polygon points="143.8,8.0 123.0,0.0 164.0,0.0" fill="#2f6dbd" stroke="#2f6dbd"/>
<polygon points="143.8,8.0 184.8,8.0 164.0,0.0" fill="#2f6dbd" stroke="#2f6dbd"/>
<polygon points="143.8,8.0 143.2,37.3 163.8,44.0" fill="#4a8cd3" stroke="#4a8cd3"/>
<polygon points="143.8,8.0 184.8,8.0 163.8,44.0" fill="#2b66b6" stroke="#2b66b6"/>
<polygon points="184.8,8.0 163.8,44.0 184.2,37.3" fill="#2560b3" stroke="#2560b3"/>
<polygon points="184.8,8.0 164.0,0.0 205.0,0.0" fill="#2f6dbd" stroke="#2f6dbd"/>
<polygon points="184.8,8.0 225.8,8.0 205.0,0.0" fill="#2f6dbd" stroke="#2f6dbd"/>
<polygon points="184.8,8.0 184.2,37.3 204.8,44.0" fill="#4a8cd3" stroke="#4a8cd3"/>
<polygon points="184.8,8.0 225.8,8.0 204.8,44.0" fill="#2b66b6" stroke="#2b66b6"/>
<polygon points="225.8,8.0 204.8,44.0 225.2,37.3" fill="#2560b3" stroke="#2560b3"/>
<polygon points="41.7,16.0 20.9,8.0 61.9,8.0" fill="#2f6dbd" stroke="#2f6dbd"/>
<polygon points="41.7,16.0 82.7,16.0 61.9,8.0" fill="#2f6dbd" stroke="#2f6dbd"/>
<polygon points="41.7,16.0 41.1,45.3 61.7,52.0" fill="#4a8cd3" stroke="#4a8cd3"/>
<polygon points="41.7,16.0 82.7,16.0 61.7,52.0" fill="#3875c4" stroke="#3875c4"/>
<polygon points="82.7,16.0 61.7,52.0 82.1,45.3" fill="#2560b3" stroke="#2560b3"/>
<polygon points="82.7,16.0 61.9,8.0 102.8,8.0" fill="#2f6dbd" stroke="#2f6dbd"/>
<polygon points="82.7,16.0 123.7,16.0 102.8,8.0" fill="#2f6dbd" stroke="#2f6dbd"/>
<polygon points="82.7,16.0 82.1,45.3 102.7,52.0" fill="#4a8cd3" stroke="#4a8cd3"/>
<polygon points="82.7,16.0 123.7,16.0 102.7,52.0" fill="#3875c4" stroke="#3875c4"/>
<polygon points="123.7,16.0 102.7,52.0 123.1,45.3" fill="#2560b3" stroke="#2560b3"/>
<polygon points="123.7,16.0 102.8,8.0 143.8,8.0" fill="#2f6dbd" stroke="#2f6dbd"/>
<polygon points="123.7,16.0 164.7,16.0 143.8,8.0" fill="#2f6dbd" stroke="#2f6dbd"/>
<polygon points="123.7,16.0 123.1,45.3 143.7,52.0" fill="#4a8cd3" stroke="#4a8cd3"/>
<polygon points="123.7,16.0 164.7,16.0 143.7,52.0" fill="#3875c4" stroke="#3875c4"/>
<polygon points="164.7,16.0 143.7,52.0 164.1,45.3" fill="#2560b3" stroke="#2560b3"/>
<polygon points="164.7,16.0 143.8,8.0 184.8,8.0" fill="#2f6dbd" stroke="#2f6dbd"/>
<polygon points="164.7,16.0 205.7,16.0 184.8,8.0" fill="#2f6dbd" stroke="#2f6dbd"/>
<polygon points="164.7,16.0 164.1,45.3 184.7,52.0" fill="#4a8cd3" stroke="#4a8cd3"/>
<polygon points="164.7,16.0 205.7,16.0 184.7,52.0" fill="#3875c4" stroke="#3875c4"/>
<polygon points="205.7,16.0 184.7,52.0 205.1,45.3" fill="#2560b3" stroke="#2560b3"/>
<polygon points="205.7,16.0 184.8,8.0 225.8,8.0" fill="#2f6dbd" stroke="#2f6dbd"/>
<polygon points="205.7,16.0 246.7,16.0 225.8,8.0" fill="#2f6dbd" stroke="#2f6dbd"/>
<polygon points="205.7,16.0 205.1,45.3 225.7,52.0" fill="#4a8cd3" stroke="#4a8cd3"/>
<polygon points="205.7,16.0 246.7,16.0 225.7,52.0" fill="#3875c4" stroke="#3875c4"/>
<polygon points="246.7,16.0 225.7,52.0 247.9,45.2" fill="#2560b3" stroke="#2560b3"/>
</g>
<g stroke="#8cc3ee" stroke-width="0.75" stroke-linecap="round" fill="none">
<line x1="0.0" y1="0.0" x2="-0.6" y2="29.3"/>
<line x1="0.0" y1="0.0" x2="20.0" y2="36.0"/>
<line x1="-0.6" y1="29.3" x2="20.0" y2="36.0"/>
<line x1="20.9" y1="8.0" x2="20.2" y2="37.3"/>
<line x1="20.9" y1="8.0" x2="40.9" y2="44.0"/>
<line x1="20.2" y1="37.3" x2="40.9" y2="44.0"/>
<line x1="41.7" y1="16.0" x2="41.1" y2="45.3"/>
<line x1="41.7" y1="16.0" x2="61.7" y2="52.0"/>
<line x1="41.1" y1="45.3" x2="61.7" y2="52.0"/>
<line x1="82.7" y1="16.0" x2="61.7" y2="52.0"/>
<line x1="61.7" y1="52.0" x2="82.1" y2="45.3"/>
<line x1="82.7" y1="16.0" x2="82.1" y2="45.3"/>
<line x1="82.7" y1="16.0" x2="102.7" y2="52.0"/>
<line x1="82.1" y1="45.3" x2="102.7" y2="52.0"/>
<line x1="123.7" y1="16.0" x2="102.7" y2="52.0"/>
<line x1="102.7" y1="52.0" x2="123.1" y2="45.3"/>
<line x1="123.7" y1="16.0" x2="123.1" y2="45.3"/>
<line x1="123.7" y1="16.0" x2="143.7" y2="52.0"/>
<line x1="123.1" y1="45.3" x2="143.7" y2="52.0"/>
<line x1="164.7" y1="16.0" x2="143.7" y2="52.0"/>
<line x1="143.7" y1="52.0" x2="164.1" y2="45.3"/>
<line x1="164.7" y1="16.0" x2="164.1" y2="45.3"/>
<line x1="164.7" y1="16.0" x2="184.7" y2="52.0"/>
<line x1="164.1" y1="45.3" x2="184.7" y2="52.0"/>
<line x1="205.7" y1="16.0" x2="184.7" y2="52.0"/>
<line x1="184.7" y1="52.0" x2="205.1" y2="45.3"/>
<line x1="205.7" y1="16.0" x2="205.1" y2="45.3"/>
<line x1="205.7" y1="16.0" x2="225.7" y2="52.0"/>
<line x1="205.1" y1="45.3" x2="225.7" y2="52.0"/>
<line x1="246.7" y1="16.0" x2="225.7" y2="52.0"/>
<line x1="225.7" y1="52.0" x2="247.9" y2="45.2"/>
<line x1="246.7" y1="16.0" x2="247.9" y2="45.2"/>
<line x1="0.0" y1="0.0" x2="205.0" y2="0.0"/>
<line x1="20.9" y1="8.0" x2="225.8" y2="8.0"/>
<line x1="41.7" y1="16.0" x2="246.7" y2="16.0"/>
<line x1="0.0" y1="0.0" x2="41.7" y2="16.0"/>
<line x1="20.1" y1="-8.0" x2="82.7" y2="16.0"/>
<line x1="61.1" y1="-8.0" x2="123.7" y2="16.0"/>
<line x1="102.2" y1="-8.0" x2="164.7" y2="16.0"/>
<line x1="143.2" y1="-8.0" x2="205.7" y2="16.0"/>
<line x1="184.2" y1="-8.0" x2="246.7" y2="16.0"/>
<line x1="0.0" y1="0.0" x2="20.1" y2="-8.0"/>
<line x1="20.9" y1="8.0" x2="61.1" y2="-8.0"/>
<line x1="41.7" y1="16.0" x2="102.2" y2="-8.0"/>
<line x1="82.7" y1="16.0" x2="143.2" y2="-8.0"/>
<line x1="123.7" y1="16.0" x2="184.2" y2="-8.0"/>
<line x1="164.7" y1="16.0" x2="205.0" y2="0.0"/>
<line x1="205.7" y1="16.0" x2="225.8" y2="8.0"/>
</g>
<g fill="url(#gy)">
<circle cx="-0.3" cy="-0.5" r="2.3"/>
<circle cx="40.7" cy="-0.5" r="2.3"/>
<circle cx="81.7" cy="-0.5" r="2.3"/>
<circle cx="122.7" cy="-0.5" r="2.3"/>
<circle cx="163.7" cy="-0.5" r="2.3"/>
<circle cx="204.7" cy="-0.5" r="2.3"/>
<circle cx="20.6" cy="7.5" r="2.3"/>
<circle cx="61.6" cy="7.5" r="2.3"/>
<circle cx="102.5" cy="7.5" r="2.3"/>
<circle cx="143.5" cy="7.5" r="2.3"/>
<circle cx="184.5" cy="7.5" r="2.3"/>
<circle cx="225.5" cy="7.5" r="2.3"/>
<circle cx="41.4" cy="15.5" r="2.3"/>
<circle cx="82.4" cy="15.5" r="2.3"/>
<circle cx="123.4" cy="15.5" r="2.3"/>
<circle cx="164.4" cy="15.5" r="2.3"/>
<circle cx="205.4" cy="15.5" r="2.3"/>
<circle cx="246.4" cy="15.5" r="2.3"/>
<circle cx="19.8" cy="-8.5" r="2.3"/>
<circle cx="60.9" cy="-8.5" r="2.3"/>
<circle cx="101.9" cy="-8.5" r="2.3"/>
<circle cx="142.8" cy="-8.5" r="2.3"/>
<circle cx="183.8" cy="-8.5" r="2.3"/>
</g></g>
<g transform="translate(336.6,360.5)">
<g fill="url(#gy)">
<circle cx="-1.5" cy="29.5" r="2.3"/>
<circle cx="19.4" cy="37.5" r="2.3"/>
<circle cx="40.2" cy="45.5" r="2.3"/>
<circle cx="61.4" cy="52.6" r="2.3"/>
<circle cx="82.1" cy="46.4" r="2.3"/>
<circle cx="102.4" cy="52.6" r="2.3"/>
<circle cx="123.1" cy="46.4" r="2.3"/>
<circle cx="143.4" cy="52.6" r="2.3"/>
<circle cx="164.1" cy="46.4" r="2.3"/>
<circle cx="184.4" cy="52.6" r="2.3"/>
<circle cx="205.1" cy="46.4" r="2.3"/>
<circle cx="225.4" cy="52.6" r="2.3"/>
<circle cx="248.6" cy="45.4" r="2.3"/>
</g>
<g stroke-width="0.5" stroke-linejoin="round">
<polygon points="0.0,0.0 41.0,0.0 20.1,-8.0" fill="#2f6dbd" stroke="#2f6dbd"/>
<polygon points="0.0,0.0 -0.6,29.3 20.0,36.0" fill="#4a8cd3" stroke="#4a8cd3"/>
<polygon points="0.0,0.0 41.0,0.0 20.0,36.0" fill="#2b66b6" stroke="#2b66b6"/>
<polygon points="41.0,0.0 20.0,36.0 40.4,29.3" fill="#2560b3" stroke="#2560b3"/>
<polygon points="41.0,0.0 82.0,0.0 61.1,-8.0" fill="#2f6dbd" stroke="#2f6dbd"/>
<polygon points="41.0,0.0 40.4,29.3 61.0,36.0" fill="#4a8cd3" stroke="#4a8cd3"/>
<polygon points="41.0,0.0 82.0,0.0 61.0,36.0" fill="#2b66b6" stroke="#2b66b6"/>
<polygon points="82.0,0.0 61.0,36.0 81.4,29.3" fill="#2560b3" stroke="#2560b3"/>
<polygon points="82.0,0.0 123.0,0.0 102.2,-8.0" fill="#2f6dbd" stroke="#2f6dbd"/>
<polygon points="82.0,0.0 81.4,29.3 102.0,36.0" fill="#4a8cd3" stroke="#4a8cd3"/>
<polygon points="82.0,0.0 123.0,0.0 102.0,36.0" fill="#2b66b6" stroke="#2b66b6"/>
<polygon points="123.0,0.0 102.0,36.0 122.4,29.3" fill="#2560b3" stroke="#2560b3"/>
<polygon points="123.0,0.0 164.0,0.0 143.2,-8.0" fill="#2f6dbd" stroke="#2f6dbd"/>
<polygon points="123.0,0.0 122.4,29.3 143.0,36.0" fill="#4a8cd3" stroke="#4a8cd3"/>
<polygon points="123.0,0.0 164.0,0.0 143.0,36.0" fill="#2b66b6" stroke="#2b66b6"/>
<polygon points="164.0,0.0 143.0,36.0 163.4,29.3" fill="#2560b3" stroke="#2560b3"/>
<polygon points="164.0,0.0 205.0,0.0 184.2,-8.0" fill="#2f6dbd" stroke="#2f6dbd"/>
<polygon points="164.0,0.0 163.4,29.3 184.0,36.0" fill="#4a8cd3" stroke="#4a8cd3"/>
<polygon points="164.0,0.0 205.0,0.0 184.0,36.0" fill="#2b66b6" stroke="#2b66b6"/>
<polygon points="205.0,0.0 184.0,36.0 204.4,29.3" fill="#2560b3" stroke="#2560b3"/>
<polygon points="20.9,8.0 0.0,0.0 41.0,0.0" fill="#2f6dbd" stroke="#2f6dbd"/>
<polygon points="20.9,8.0 61.9,8.0 41.0,0.0" fill="#2f6dbd" stroke="#2f6dbd"/>
<polygon points="20.9,8.0 20.2,37.3 40.9,44.0" fill="#4a8cd3" stroke="#4a8cd3"/>
<polygon points="20.9,8.0 61.9,8.0 40.9,44.0" fill="#2b66b6" stroke="#2b66b6"/>
<polygon points="61.9,8.0 40.9,44.0 61.2,37.3" fill="#2560b3" stroke="#2560b3"/>
<polygon points="61.9,8.0 41.0,0.0 82.0,0.0" fill="#2f6dbd" stroke="#2f6dbd"/>
<polygon points="61.9,8.0 102.8,8.0 82.0,0.0" fill="#2f6dbd" stroke="#2f6dbd"/>
<polygon points="61.9,8.0 61.2,37.3 81.8,44.0" fill="#4a8cd3" stroke="#4a8cd3"/>
<polygon points="61.9,8.0 102.8,8.0 81.8,44.0" fill="#2b66b6" stroke="#2b66b6"/>
<polygon points="102.8,8.0 81.8,44.0 102.2,37.3" fill="#2560b3" stroke="#2560b3"/>
<polygon points="102.8,8.0 82.0,0.0 123.0,0.0" fill="#2f6dbd" stroke="#2f6dbd"/>
<polygon points="102.8,8.0 143.8,8.0 123.0,0.0" fill="#2f6dbd" stroke="#2f6dbd"/>
<polygon points="102.8,8.0 102.2,37.3 122.8,44.0" fill="#4a8cd3" stroke="#4a8cd3"/>
<polygon points="102.8,8.0 143.8,8.0 122.8,44.0" fill="#2b66b6" stroke="#2b66b6"/>
<polygon points="143.8,8.0 122.8,44.0 143.2,37.3" fill="#2560b3" stroke="#2560b3"/>
<polygon points="143.8,8.0 123.0,0.0 164.0,0.0" fill="#2f6dbd" stroke="#2f6dbd"/>
<polygon points="143.8,8.0 184.8,8.0 164.0,0.0" fill="#2f6dbd" stroke="#2f6dbd"/>
<polygon points="143.8,8.0 143.2,37.3 163.8,44.0" fill="#4a8cd3" stroke="#4a8cd3"/>
<polygon points="143.8,8.0 184.8,8.0 163.8,44.0" fill="#2b66b6" stroke="#2b66b6"/>
<polygon points="184.8,8.0 163.8,44.0 184.2,37.3" fill="#2560b3" stroke="#2560b3"/>
<polygon points="184.8,8.0 164.0,0.0 205.0,0.0" fill="#2f6dbd" stroke="#2f6dbd"/>
<polygon points="184.8,8.0 225.8,8.0 205.0,0.0" fill="#2f6dbd" stroke="#2f6dbd"/>
<polygon points="184.8,8.0 184.2,37.3 204.8,44.0" fill="#4a8cd3" stroke="#4a8cd3"/>
<polygon points="184.8,8.0 225.8,8.0 204.8,44.0" fill="#2b66b6" stroke="#2b66b6"/>
<polygon points="225.8,8.0 204.8,44.0 225.2,37.3" fill="#2560b3" stroke="#2560b3"/>
<polygon points="41.7,16.0 20.9,8.0 61.9,8.0" fill="#2f6dbd" stroke="#2f6dbd"/>
<polygon points="41.7,16.0 82.7,16.0 61.9,8.0" fill="#2f6dbd" stroke="#2f6dbd"/>
<polygon points="41.7,16.0 41.1,45.3 61.7,52.0" fill="#4a8cd3" stroke="#4a8cd3"/>
<polygon points="41.7,16.0 82.7,16.0 61.7,52.0" fill="#3875c4" stroke="#3875c4"/>
<polygon points="82.7,16.0 61.7,52.0 82.1,45.3" fill="#2560b3" stroke="#2560b3"/>
<polygon points="82.7,16.0 61.9,8.0 102.8,8.0" fill="#2f6dbd" stroke="#2f6dbd"/>
<polygon points="82.7,16.0 123.7,16.0 102.8,8.0" fill="#2f6dbd" stroke="#2f6dbd"/>
<polygon points="82.7,16.0 82.1,45.3 102.7,52.0" fill="#4a8cd3" stroke="#4a8cd3"/>
<polygon points="82.7,16.0 123.7,16.0 102.7,52.0" fill="#3875c4" stroke="#3875c4"/>
<polygon points="123.7,16.0 102.7,52.0 123.1,45.3" fill="#2560b3" stroke="#2560b3"/>
<polygon points="123.7,16.0 102.8,8.0 143.8,8.0" fill="#2f6dbd" stroke="#2f6dbd"/>
<polygon points="123.7,16.0 164.7,16.0 143.8,8.0" fill="#2f6dbd" stroke="#2f6dbd"/>
<polygon points="123.7,16.0 123.1,45.3 143.7,52.0" fill="#4a8cd3" stroke="#4a8cd3"/>
<polygon points="123.7,16.0 164.7,16.0 143.7,52.0" fill="#3875c4" stroke="#3875c4"/>
<polygon points="164.7,16.0 143.7,52.0 164.1,45.3" fill="#2560b3" stroke="#2560b3"/>
<polygon points="164.7,16.0 143.8,8.0 184.8,8.0" fill="#2f6dbd" stroke="#2f6dbd"/>
<polygon points="164.7,16.0 205.7,16.0 184.8,8.0" fill="#2f6dbd" stroke="#2f6dbd"/>
<polygon points="164.7,16.0 164.1,45.3 184.7,52.0" fill="#4a8cd3" stroke="#4a8cd3"/>
<polygon points="164.7,16.0 205.7,16.0 184.7,52.0" fill="#3875c4" stroke="#3875c4"/>
<polygon points="205.7,16.0 184.7,52.0 205.1,45.3" fill="#2560b3" stroke="#2560b3"/>
<polygon points="205.7,16.0 184.8,8.0 225.8,8.0" fill="#2f6dbd" stroke="#2f6dbd"/>
<polygon points="205.7,16.0 246.7,16.0 225.8,8.0" fill="#2f6dbd" stroke="#2f6dbd"/>
<polygon points="205.7,16.0 205.1,45.3 225.7,52.0" fill="#4a8cd3" stroke="#4a8cd3"/>
<polygon points="205.7,16.0 246.7,16.0 225.7,52.0" fill="#3875c4" stroke="#3875c4"/>
<polygon points="246.7,16.0 225.7,52.0 247.9,45.2" fill="#2560b3" stroke="#2560b3"/>
</g>
<g stroke="#8cc3ee" stroke-width="0.75" stroke-linecap="round" fill="none">
<line x1="0.0" y1="0.0" x2="-0.6" y2="29.3"/>
<line x1="0.0" y1="0.0" x2="20.0" y2="36.0"/>
<line x1="-0.6" y1="29.3" x2="20.0" y2="36.0"/>
<line x1="20.9" y1="8.0" x2="20.2" y2="37.3"/>
<line x1="20.9" y1="8.0" x2="40.9" y2="44.0"/>
<line x1="20.2" y1="37.3" x2="40.9" y2="44.0"/>
<line x1="41.7" y1="16.0" x2="41.1" y2="45.3"/>
<line x1="41.7" y1="16.0" x2="61.7" y2="52.0"/>
<line x1="41.1" y1="45.3" x2="61.7" y2="52.0"/>
<line x1="82.7" y1="16.0" x2="61.7" y2="52.0"/>
<line x1="61.7" y1="52.0" x2="82.1" y2="45.3"/>
<line x1="82.7" y1="16.0" x2="82.1" y2="45.3"/>
<line x1="82.7" y1="16.0" x2="102.7" y2="52.0"/>
<line x1="82.1" y1="45.3" x2="102.7" y2="52.0"/>
<line x1="123.7" y1="16.0" x2="102.7" y2="52.0"/>
<line x1="102.7" y1="52.0" x2="123.1" y2="45.3"/>
<line x1="123.7" y1="16.0" x2="123.1" y2="45.3"/>
<line x1="123.7" y1="16.0" x2="143.7" y2="52.0"/>
<line x1="123.1" y1="45.3" x2="143.7" y2="52.0"/>
<line x1="164.7" y1="16.0" x2="143.7" y2="52.0"/>
<line x1="143.7" y1="52.0" x2="164.1" y2="45.3"/>
<line x1="164.7" y1="16.0" x2="164.1" y2="45.3"/>
<line x1="164.7" y1="16.0" x2="184.7" y2="52.0"/>
<line x1="164.1" y1="45.3" x2="184.7" y2="52.0"/>
<line x1="205.7" y1="16.0" x2="184.7" y2="52.0"/>
<line x1="184.7" y1="52.0" x2="205.1" y2="45.3"/>
<line x1="205.7" y1="16.0" x2="205.1" y2="45.3"/>
<line x1="205.7" y1="16.0" x2="225.7" y2="52.0"/>
<line x1="205.1" y1="45.3" x2="225.7" y2="52.0"/>
<line x1="246.7" y1="16.0" x2="225.7" y2="52.0"/>
<line x1="225.7" y1="52.0" x2="247.9" y2="45.2"/>
<line x1="246.7" y1="16.0" x2="247.9" y2="45.2"/>
<line x1="0.0" y1="0.0" x2="205.0" y2="0.0"/>
<line x1="20.9" y1="8.0" x2="225.8" y2="8.0"/>
<line x1="41.7" y1="16.0" x2="246.7" y2="16.0"/>
<line x1="0.0" y1="0.0" x2="41.7" y2="16.0"/>
<line x1="20.1" y1="-8.0" x2="82.7" y2="16.0"/>
<line x1="61.1" y1="-8.0" x2="123.7" y2="16.0"/>
<line x1="102.2" y1="-8.0" x2="164.7" y2="16.0"/>
<line x1="143.2" y1="-8.0" x2="205.7" y2="16.0"/>
<line x1="184.2" y1="-8.0" x2="246.7" y2="16.0"/>
<line x1="0.0" y1="0.0" x2="20.1" y2="-8.0"/>
<line x1="20.9" y1="8.0" x2="61.1" y2="-8.0"/>
<line x1="41.7" y1="16.0" x2="102.2" y2="-8.0"/>
<line x1="82.7" y1="16.0" x2="143.2" y2="-8.0"/>
<line x1="123.7" y1="16.0" x2="184.2" y2="-8.0"/>
<line x1="164.7" y1="16.0" x2="205.0" y2="0.0"/>
<line x1="205.7" y1="16.0" x2="225.8" y2="8.0"/>
</g>
<g fill="url(#gy)">
<circle cx="-0.3" cy="-0.5" r="2.3"/>
<circle cx="40.7" cy="-0.5" r="2.3"/>
<circle cx="81.7" cy="-0.5" r="2.3"/>
<circle cx="122.7" cy="-0.5" r="2.3"/>
<circle cx="163.7" cy="-0.5" r="2.3"/>
<circle cx="204.7" cy="-0.5" r="2.3"/>
<circle cx="20.6" cy="7.5" r="2.3"/>
<circle cx="61.6" cy="7.5" r="2.3"/>
<circle cx="102.5" cy="7.5" r="2.3"/>
<circle cx="143.5" cy="7.5" r="2.3"/>
<circle cx="184.5" cy="7.5" r="2.3"/>
<circle cx="225.5" cy="7.5" r="2.3"/>
<circle cx="41.4" cy="15.5" r="2.3"/>
<circle cx="82.4" cy="15.5" r="2.3"/>
<circle cx="123.4" cy="15.5" r="2.3"/>
<circle cx="164.4" cy="15.5" r="2.3"/>
<circle cx="205.4" cy="15.5" r="2.3"/>
<circle cx="246.4" cy="15.5" r="2.3"/>
<circle cx="19.8" cy="-8.5" r="2.3"/>
<circle cx="60.9" cy="-8.5" r="2.3"/>
<circle cx="101.9" cy="-8.5" r="2.3"/>
<circle cx="142.8" cy="-8.5" r="2.3"/>
<circle cx="183.8" cy="-8.5" r="2.3"/>
</g></g>
<g transform="translate(680.8,172.5)">
<g fill="url(#gy)">
<circle cx="-1.5" cy="29.5" r="2.3"/>
<circle cx="19.4" cy="37.5" r="2.3"/>
<circle cx="40.2" cy="45.5" r="2.3"/>
<circle cx="61.4" cy="52.6" r="2.3"/>
<circle cx="82.1" cy="46.4" r="2.3"/>
<circle cx="102.4" cy="52.6" r="2.3"/>
<circle cx="123.1" cy="46.4" r="2.3"/>
<circle cx="143.4" cy="52.6" r="2.3"/>
<circle cx="164.1" cy="46.4" r="2.3"/>
<circle cx="184.4" cy="52.6" r="2.3"/>
<circle cx="205.1" cy="46.4" r="2.3"/>
<circle cx="225.4" cy="52.6" r="2.3"/>
<circle cx="248.6" cy="45.4" r="2.3"/>
</g>
<g stroke-width="0.5" stroke-linejoin="round">
<polygon points="0.0,0.0 41.0,0.0 20.1,-8.0" fill="#2f6dbd" stroke="#2f6dbd"/>
<polygon points="0.0,0.0 -0.6,29.3 20.0,36.0" fill="#4a8cd3" stroke="#4a8cd3"/>
<polygon points="0.0,0.0 41.0,0.0 20.0,36.0" fill="#2b66b6" stroke="#2b66b6"/>
<polygon points="41.0,0.0 20.0,36.0 40.4,29.3" fill="#2560b3" stroke="#2560b3"/>
<polygon points="41.0,0.0 82.0,0.0 61.1,-8.0" fill="#2f6dbd" stroke="#2f6dbd"/>
<polygon points="41.0,0.0 40.4,29.3 61.0,36.0" fill="#4a8cd3" stroke="#4a8cd3"/>
<polygon points="41.0,0.0 82.0,0.0 61.0,36.0" fill="#2b66b6" stroke="#2b66b6"/>
<polygon points="82.0,0.0 61.0,36.0 81.4,29.3" fill="#2560b3" stroke="#2560b3"/>
<polygon points="82.0,0.0 123.0,0.0 102.2,-8.0" fill="#2f6dbd" stroke="#2f6dbd"/>
<polygon points="82.0,0.0 81.4,29.3 102.0,36.0" fill="#4a8cd3" stroke="#4a8cd3"/>
<polygon points="82.0,0.0 123.0,0.0 102.0,36.0" fill="#2b66b6" stroke="#2b66b6"/>
<polygon points="123.0,0.0 102.0,36.0 122.4,29.3" fill="#2560b3" stroke="#2560b3"/>
<polygon points="123.0,0.0 164.0,0.0 143.2,-8.0" fill="#2f6dbd" stroke="#2f6dbd"/>
<polygon points="123.0,0.0 122.4,29.3 143.0,36.0" fill="#4a8cd3" stroke="#4a8cd3"/>
<polygon points="123.0,0.0 164.0,0.0 143.0,36.0" fill="#2b66b6" stroke="#2b66b6"/>
<polygon points="164.0,0.0 143.0,36.0 163.4,29.3" fill="#2560b3" stroke="#2560b3"/>
<polygon points="164.0,0.0 205.0,0.0 184.2,-8.0" fill="#2f6dbd" stroke="#2f6dbd"/>
<polygon points="164.0,0.0 163.4,29.3 184.0,36.0" fill="#4a8cd3" stroke="#4a8cd3"/>
<polygon points="164.0,0.0 205.0,0.0 184.0,36.0" fill="#2b66b6" stroke="#2b66b6"/>
<polygon points="205.0,0.0 184.0,36.0 204.4,29.3" fill="#2560b3" stroke="#2560b3"/>
<polygon points="20.9,8.0 0.0,0.0 41.0,0.0" fill="#2f6dbd" stroke="#2f6dbd"/>
<polygon points="20.9,8.0 61.9,8.0 41.0,0.0" fill="#2f6dbd" stroke="#2f6dbd"/>
<polygon points="20.9,8.0 20.2,37.3 40.9,44.0" fill="#4a8cd3" stroke="#4a8cd3"/>
<polygon points="20.9,8.0 61.9,8.0 40.9,44.0" fill="#2b66b6" stroke="#2b66b6"/>
<polygon points="61.9,8.0 40.9,44.0 61.2,37.3" fill="#2560b3" stroke="#2560b3"/>
<polygon points="61.9,8.0 41.0,0.0 82.0,0.0" fill="#2f6dbd" stroke="#2f6dbd"/>
<polygon points="61.9,8.0 102.8,8.0 82.0,0.0" fill="#2f6dbd" stroke="#2f6dbd"/>
<polygon points="61.9,8.0 61.2,37.3 81.8,44.0" fill="#4a8cd3" stroke="#4a8cd3"/>
<polygon points="61.9,8.0 102.8,8.0 81.8,44.0" fill="#2b66b6" stroke="#2b66b6"/>
<polygon points="102.8,8.0 81.8,44.0 102.2,37.3" fill="#2560b3" stroke="#2560b3"/>
<polygon points="102.8,8.0 82.0,0.0 123.0,0.0" fill="#2f6dbd" stroke="#2f6dbd"/>
<polygon points="102.8,8.0 143.8,8.0 123.0,0.0" fill="#2f6dbd" stroke="#2f6dbd"/>
<polygon points="102.8,8.0 102.2,37.3 122.8,44.0" fill="#4a8cd3" stroke="#4a8cd3"/>
<polygon points="102.8,8.0 143.8,8.0 122.8,44.0" fill="#2b66b6" stroke="#2b66b6"/>
<polygon points="143.8,8.0 122.8,44.0 143.2,37.3" fill="#2560b3" stroke="#2560b3"/>
<polygon points="143.8,8.0 123.0,0.0 164.0,0.0" fill="#2f6dbd" stroke="#2f6dbd"/>
<polygon points="143.8,8.0 184.8,8.0 164.0,0.0" fill="#2f6dbd" stroke="#2f6dbd"/>
<polygon points="143.8,8.0 143.2,37.3 163.8,44.0" fill="#4a8cd3" stroke="#4a8cd3"/>
<polygon points="143.8,8.0 184.8,8.0 163.8,44.0" fill="#2b66b6" stroke="#2b66b6"/>
<polygon points="184.8,8.0 163.8,44.0 184.2,37.3" fill="#2560b3" stroke="#2560b3"/>
<polygon points="184.8,8.0 164.0,0.0 205.0,0.0" fill="#2f6dbd" stroke="#2f6dbd"/>
<polygon points="184.8,8.0 225.8,8.0 205.0,0.0" fill="#2f6dbd" stroke="#2f6dbd"/>
<polygon points="184.8,8.0 184.2,37.3 204.8,44.0" fill="#4a8cd3" stroke="#4a8cd3"/>
<polygon points="184.8,8.0 225.8,8.0 204.8,44.0" fill="#2b66b6" stroke="#2b66b6"/>
<polygon points="225.8,8.0 204.8,44.0 225.2,37.3" fill="#2560b3" stroke="#2560b3"/>
<polygon points="41.7,16.0 20.9,8.0 61.9,8.0" fill="#2f6dbd" stroke="#2f6dbd"/>
<polygon points="41.7,16.0 82.7,16.0 61.9,8.0" fill="#2f6dbd" stroke="#2f6dbd"/>
<polygon points="41.7,16.0 41.1,45.3 61.7,52.0" fill="#4a8cd3" stroke="#4a8cd3"/>
<polygon points="41.7,16.0 82.7,16.0 61.7,52.0" fill="#3875c4" stroke="#3875c4"/>
<polygon points="82.7,16.0 61.7,52.0 82.1,45.3" fill="#2560b3" stroke="#2560b3"/>
<polygon points="82.7,16.0 61.9,8.0 102.8,8.0" fill="#2f6dbd" stroke="#2f6dbd"/>
<polygon points="82.7,16.0 123.7,16.0 102.8,8.0" fill="#2f6dbd" stroke="#2f6dbd"/>
<polygon points="82.7,16.0 82.1,45.3 102.7,52.0" fill="#4a8cd3" stroke="#4a8cd3"/>
<polygon points="82.7,16.0 123.7,16.0 102.7,52.0" fill="#3875c4" stroke="#3875c4"/>
<polygon points="123.7,16.0 102.7,52.0 123.1,45.3" fill="#2560b3" stroke="#2560b3"/>
<polygon points="123.7,16.0 102.8,8.0 143.8,8.0" fill="#2f6dbd" stroke="#2f6dbd"/>
<polygon points="123.7,16.0 164.7,16.0 143.8,8.0" fill="#2f6dbd" stroke="#2f6dbd"/>
<polygon points="123.7,16.0 123.1,45.3 143.7,52.0" fill="#4a8cd3" stroke="#4a8cd3"/>
<polygon points="123.7,16.0 164.7,16.0 143.7,52.0" fill="#3875c4" stroke="#3875c4"/>
<polygon points="164.7,16.0 143.7,52.0 164.1,45.3" fill="#2560b3" stroke="#2560b3"/>
<polygon points="164.7,16.0 143.8,8.0 184.8,8.0" fill="#2f6dbd" stroke="#2f6dbd"/>
<polygon points="164.7,16.0 205.7,16.0 184.8,8.0" fill="#2f6dbd" stroke="#2f6dbd"/>
<polygon points="164.7,16.0 164.1,45.3 184.7,52.0" fill="#4a8cd3" stroke="#4a8cd3"/>
<polygon points="164.7,16.0 205.7,16.0 184.7,52.0" fill="#3875c4" stroke="#3875c4"/>
<polygon points="205.7,16.0 184.7,52.0 205.1,45.3" fill="#2560b3" stroke="#2560b3"/>
<polygon points="205.7,16.0 184.8,8.0 225.8,8.0" fill="#2f6dbd" stroke="#2f6dbd"/>
<polygon points="205.7,16.0 246.7,16.0 225.8,8.0" fill="#2f6dbd" stroke="#2f6dbd"/>
<polygon points="205.7,16.0 205.1,45.3 225.7,52.0" fill="#4a8cd3" stroke="#4a8cd3"/>
<polygon points="205.7,16.0 246.7,16.0 225.7,52.0" fill="#3875c4" stroke="#3875c4"/>
<polygon points="246.7,16.0 225.7,52.0 247.9,45.2" fill="#2560b3" stroke="#2560b3"/>
</g>
<g stroke="#8cc3ee" stroke-width="0.75" stroke-linecap="round" fill="none">
<line x1="0.0" y1="0.0" x2="-0.6" y2="29.3"/>
<line x1="0.0" y1="0.0" x2="20.0" y2="36.0"/>
<line x1="-0.6" y1="29.3" x2="20.0" y2="36.0"/>
<line x1="20.9" y1="8.0" x2="20.2" y2="37.3"/>
<line x1="20.9" y1="8.0" x2="40.9" y2="44.0"/>
<line x1="20.2" y1="37.3" x2="40.9" y2="44.0"/>
<line x1="41.7" y1="16.0" x2="41.1" y2="45.3"/>
<line x1="41.7" y1="16.0" x2="61.7" y2="52.0"/>
<line x1="41.1" y1="45.3" x2="61.7" y2="52.0"/>
<line x1="82.7" y1="16.0" x2="61.7" y2="52.0"/>
<line x1="61.7" y1="52.0" x2="82.1" y2="45.3"/>
<line x1="82.7" y1="16.0" x2="82.1" y2="45.3"/>
<line x1="82.7" y1="16.0" x2="102.7" y2="52.0"/>
<line x1="82.1" y1="45.3" x2="102.7" y2="52.0"/>
<line x1="123.7" y1="16.0" x2="102.7" y2="52.0"/>
<line x1="102.7" y1="52.0" x2="123.1" y2="45.3"/>
<line x1="123.7" y1="16.0" x2="123.1" y2="45.3"/>
<line x1="123.7" y1="16.0" x2="143.7" y2="52.0"/>
<line x1="123.1" y1="45.3" x2="143.7" y2="52.0"/>
<line x1="164.7" y1="16.0" x2="143.7" y2="52.0"/>
<line x1="143.7" y1="52.0" x2="164.1" y2="45.3"/>
<line x1="164.7" y1="16.0" x2="164.1" y2="45.3"/>
<line x1="164.7" y1="16.0" x2="184.7" y2="52.0"/>
<line x1="164.1" y1="45.3" x2="184.7" y2="52.0"/>
<line x1="205.7" y1="16.0" x2="184.7" y2="52.0"/>
<line x1="184.7" y1="52.0" x2="205.1" y2="45.3"/>
<line x1="205.7" y1="16.0" x2="205.1" y2="45.3"/>
<line x1="205.7" y1="16.0" x2="225.7" y2="52.0"/>
<line x1="205.1" y1="45.3" x2="225.7" y2="52.0"/>
<line x1="246.7" y1="16.0" x2="225.7" y2="52.0"/>
<line x1="225.7" y1="52.0" x2="247.9" y2="45.2"/>
<line x1="246.7" y1="16.0" x2="247.9" y2="45.2"/>
<line x1="0.0" y1="0.0" x2="205.0" y2="0.0"/>
<line x1="20.9" y1="8.0" x2="225.8" y2="8.0"/>
<line x1="41.7" y1="16.0" x2="246.7" y2="16.0"/>
<line x1="0.0" y1="0.0" x2="41.7" y2="16.0"/>
<line x1="20.1" y1="-8.0" x2="82.7" y2="16.0"/>
<line x1="61.1" y1="-8.0" x2="123.7" y2="16.0"/>
<line x1="102.2" y1="-8.0" x2="164.7" y2="16.0"/>
<line x1="143.2" y1="-8.0" x2="205.7" y2="16.0"/>
<line x1="184.2" y1="-8.0" x2="246.7" y2="16.0"/>
<line x1="0.0" y1="0.0" x2="20.1" y2="-8.0"/>
<line x1="20.9" y1="8.0" x2="61.1" y2="-8.0"/>
<line x1="41.7" y1="16.0" x2="102.2" y2="-8.0"/>
<line x1="82.7" y1="16.0" x2="143.2" y2="-8.0"/>
<line x1="123.7" y1="16.0" x2="184.2" y2="-8.0"/>
<line x1="164.7" y1="16.0" x2="205.0" y2="0.0"/>
<line x1="205.7" y1="16.0" x2="225.8" y2="8.0"/>
</g>
<g fill="url(#gy)">
<circle cx="-0.3" cy="-0.5" r="2.3"/>
<circle cx="40.7" cy="-0.5" r="2.3"/>
<circle cx="81.7" cy="-0.5" r="2.3"/>
<circle cx="122.7" cy="-0.5" r="2.3"/>
<circle cx="163.7" cy="-0.5" r="2.3"/>
<circle cx="204.7" cy="-0.5" r="2.3"/>
<circle cx="20.6" cy="7.5" r="2.3"/>
<circle cx="61.6" cy="7.5" r="2.3"/>
<circle cx="102.5" cy="7.5" r="2.3"/>
<circle cx="143.5" cy="7.5" r="2.3"/>
<circle cx="184.5" cy="7.5" r="2.3"/>
<circle cx="225.5" cy="7.5" r="2.3"/>
<circle cx="41.4" cy="15.5" r="2.3"/>
<circle cx="82.4" cy="15.5" r="2.3"/>
<circle cx="123.4" cy="15.5" r="2.3"/>
<circle cx="164.4" cy="15.5" r="2.3"/>
<circle cx="205.4" cy="15.5" r="2.3"/>
<circle cx="246.4" cy="15.5" r="2.3"/>
<circle cx="19.8" cy="-8.5" r="2.3"/>
<circle cx="60.9" cy="-8.5" r="2.3"/>
<circle cx="101.9" cy="-8.5" r="2.3"/>
<circle cx="142.8" cy="-8.5" r="2.3"/>
<circle cx="183.8" cy="-8.5" r="2.3"/>
</g></g>
<g transform="translate(680.8,396.5)">
<g fill="url(#gy)">
<circle cx="-1.5" cy="29.5" r="2.3"/>
<circle cx="19.4" cy="37.5" r="2.3"/>
<circle cx="40.2" cy="45.5" r="2.3"/>
<circle cx="61.4" cy="52.6" r="2.3"/>
<circle cx="82.1" cy="46.4" r="2.3"/>
<circle cx="102.4" cy="52.6" r="2.3"/>
<circle cx="123.1" cy="46.4" r="2.3"/>
<circle cx="143.4" cy="52.6" r="2.3"/>
<circle cx="164.1" cy="46.4" r="2.3"/>
<circle cx="184.4" cy="52.6" r="2.3"/>
<circle cx="205.1" cy="46.4" r="2.3"/>
<circle cx="225.4" cy="52.6" r="2.3"/>
<circle cx="248.6" cy="45.4" r="2.3"/>
</g>
<g stroke-width="0.5" stroke-linejoin="round">
<polygon points="0.0,0.0 41.0,0.0 20.1,-8.0" fill="#2f6dbd" stroke="#2f6dbd"/>
<polygon points="0.0,0.0 -0.6,29.3 20.0,36.0" fill="#4a8cd3" stroke="#4a8cd3"/>
<polygon points="0.0,0.0 41.0,0.0 20.0,36.0" fill="#2b66b6" stroke="#2b66b6"/>
<polygon points="41.0,0.0 20.0,36.0 40.4,29.3" fill="#2560b3" stroke="#2560b3"/>
<polygon points="41.0,0.0 82.0,0.0 61.1,-8.0" fill="#2f6dbd" stroke="#2f6dbd"/>
<polygon points="41.0,0.0 40.4,29.3 61.0,36.0" fill="#4a8cd3" stroke="#4a8cd3"/>
<polygon points="41.0,0.0 82.0,0.0 61.0,36.0" fill="#2b66b6" stroke="#2b66b6"/>
<polygon points="82.0,0.0 61.0,36.0 81.4,29.3" fill="#2560b3" stroke="#2560b3"/>
<polygon points="82.0,0.0 123.0,0.0 102.2,-8.0" fill="#2f6dbd" stroke="#2f6dbd"/>
<polygon points="82.0,0.0 81.4,29.3 102.0,36.0" fill="#4a8cd3" stroke="#4a8cd3"/>
<polygon points="82.0,0.0 123.0,0.0 102.0,36.0" fill="#2b66b6" stroke="#2b66b6"/>
<polygon points="123.0,0.0 102.0,36.0 122.4,29.3" fill="#2560b3" stroke="#2560b3"/>
<polygon points="123.0,0.0 164.0,0.0 143.2,-8.0" fill="#2f6dbd" stroke="#2f6dbd"/>
<polygon points="123.0,0.0 122.4,29.3 143.0,36.0" fill="#4a8cd3" stroke="#4a8cd3"/>
<polygon points="123.0,0.0 164.0,0.0 143.0,36.0" fill="#2b66b6" stroke="#2b66b6"/>
<polygon points="164.0,0.0 143.0,36.0 163.4,29.3" fill="#2560b3" stroke="#2560b3"/>
<polygon points="164.0,0.0 205.0,0.0 184.2,-8.0" fill="#2f6dbd" stroke="#2f6dbd"/>
<polygon points="164.0,0.0 163.4,29.3 184.0,36.0" fill="#4a8cd3" stroke="#4a8cd3"/>
<polygon points="164.0,0.0 205.0,0.0 184.0,36.0" fill="#2b66b6" stroke="#2b66b6"/>
<polygon points="205.0,0.0 184.0,36.0 204.4,29.3" fill="#2560b3" stroke="#2560b3"/>
<polygon points="20.9,8.0 0.0,0.0 41.0,0.0" fill="#2f6dbd" stroke="#2f6dbd"/>
<polygon points="20.9,8.0 61.9,8.0 41.0,0.0" fill="#2f6dbd" stroke="#2f6dbd"/>
<polygon points="20.9,8.0 20.2,37.3 40.9,44.0" fill="#4a8cd3" stroke="#4a8cd3"/>
<polygon points="20.9,8.0 61.9,8.0 40.9,44.0" fill="#2b66b6" stroke="#2b66b6"/>
<polygon points="61.9,8.0 40.9,44.0 61.2,37.3" fill="#2560b3" stroke="#2560b3"/>
<polygon points="61.9,8.0 41.0,0.0 82.0,0.0" fill="#2f6dbd" stroke="#2f6dbd"/>
<polygon points="61.9,8.0 102.8,8.0 82.0,0.0" fill="#2f6dbd" stroke="#2f6dbd"/>
<polygon points="61.9,8.0 61.2,37.3 81.8,44.0" fill="#4a8cd3" stroke="#4a8cd3"/>
<polygon points="61.9,8.0 102.8,8.0 81.8,44.0" fill="#2b66b6" stroke="#2b66b6"/>
<polygon points="102.8,8.0 81.8,44.0 102.2,37.3" fill="#2560b3" stroke="#2560b3"/>
<polygon points="102.8,8.0 82.0,0.0 123.0,0.0" fill="#2f6dbd" stroke="#2f6dbd"/>
<polygon points="102.8,8.0 143.8,8.0 123.0,0.0" fill="#2f6dbd" stroke="#2f6dbd"/>
<polygon points="102.8,8.0 102.2,37.3 122.8,44.0" fill="#4a8cd3" stroke="#4a8cd3"/>
<polygon points="102.8,8.0 143.8,8.0 122.8,44.0" fill="#2b66b6" stroke="#2b66b6"/>
<polygon points="143.8,8.0 122.8,44.0 143.2,37.3" fill="#2560b3" stroke="#2560b3"/>
<polygon points="143.8,8.0 123.0,0.0 164.0,0.0" fill="#2f6dbd" stroke="#2f6dbd"/>
<polygon points="143.8,8.0 184.8,8.0 164.0,0.0" fill="#2f6dbd" stroke="#2f6dbd"/>
<polygon points="143.8,8.0 143.2,37.3 163.8,44.0" fill="#4a8cd3" stroke="#4a8cd3"/>
<polygon points="143.8,8.0 184.8,8.0 163.8,44.0" fill="#2b66b6" stroke="#2b66b6"/>
<polygon points="184.8,8.0 163.8,44.0 184.2,37.3" fill="#2560b3" stroke="#2560b3"/>
<polygon points="184.8,8.0 164.0,0.0 205.0,0.0" fill="#2f6dbd" stroke="#2f6dbd"/>
<polygon points="184.8,8.0 225.8,8.0 205.0,0.0" fill="#2f6dbd" stroke="#2f6dbd"/>
<polygon points="184.8,8.0 184.2,37.3 204.8,44.0" fill="#4a8cd3" stroke="#4a8cd3"/>
<polygon points="184.8,8.0 225.8,8.0 204.8,44.0" fill="#2b66b6" stroke="#2b66b6"/>
<polygon points="225.8,8.0 204.8,44.0 225.2,37.3" fill="#2560b3" stroke="#2560b3"/>
<polygon points="41.7,16.0 20.9,8.0 61.9,8.0" fill="#2f6dbd" stroke="#2f6dbd"/>
<polygon points="41.7,16.0 82.7,16.0 61.9,8.0" fill="#2f6dbd" stroke="#2f6dbd"/>
<polygon points="41.7,16.0 41.1,45.3 61.7,52.0" fill="#4a8cd3" stroke="#4a8cd3"/>
<polygon points="41.7,16.0 82.7,16.0 61.7,52.0" fill="#3875c4" stroke="#3875c4"/>
<polygon points="82.7,16.0 61.7,52.0 82.1,45.3" fill="#2560b3" stroke="#2560b3"/>
<polygon points="82.7,16.0 61.9,8.0 102.8,8.0" fill="#2f6dbd" stroke="#2f6dbd"/>
<polygon points="82.7,16.0 123.7,16.0 102.8,8.0" fill="#2f6dbd" stroke="#2f6dbd"/>
<polygon points="82.7,16.0 82.1,45.3 102.7,52.0" fill="#4a8cd3" stroke="#4a8cd3"/>
<polygon points="82.7,16.0 123.7,16.0 102.7,52.0" fill="#3875c4" stroke="#3875c4"/>
<polygon points="123.7,16.0 102.7,52.0 123.1,45.3" fill="#2560b3" stroke="#2560b3"/>
<polygon points="123.7,16.0 102.8,8.0 143.8,8.0" fill="#2f6dbd" stroke="#2f6dbd"/>
<polygon points="123.7,16.0 164.7,16.0 143.8,8.0" fill="#2f6dbd" stroke="#2f6dbd"/>
<polygon points="123.7,16.0 123.1,45.3 143.7,52.0" fill="#4a8cd3" stroke="#4a8cd3"/>
<polygon points="123.7,16.0 164.7,16.0 143.7,52.0" fill="#3875c4" stroke="#3875c4"/>
<polygon points="164.7,16.0 143.7,52.0 164.1,45.3" fill="#2560b3" stroke="#2560b3"/>
<polygon points="164.7,16.0 143.8,8.0 184.8,8.0" fill="#2f6dbd" stroke="#2f6dbd"/>
<polygon points="164.7,16.0 205.7,16.0 184.8,8.0" fill="#2f6dbd" stroke="#2f6dbd"/>
<polygon points="164.7,16.0 164.1,45.3 184.7,52.0" fill="#4a8cd3" stroke="#4a8cd3"/>
<polygon points="164.7,16.0 205.7,16.0 184.7,52.0" fill="#3875c4" stroke="#3875c4"/>
<polygon points="205.7,16.0 184.7,52.0 205.1,45.3" fill="#2560b3" stroke="#2560b3"/>
<polygon points="205.7,16.0 184.8,8.0 225.8,8.0" fill="#2f6dbd" stroke="#2f6dbd"/>
<polygon points="205.7,16.0 246.7,16.0 225.8,8.0" fill="#2f6dbd" stroke="#2f6dbd"/>
<polygon points="205.7,16.0 205.1,45.3 225.7,52.0" fill="#4a8cd3" stroke="#4a8cd3"/>
<polygon points="205.7,16.0 246.7,16.0 225.7,52.0" fill="#3875c4" stroke="#3875c4"/>
<polygon points="246.7,16.0 225.7,52.0 247.9,45.2" fill="#2560b3" stroke="#2560b3"/>
</g>
<g stroke="#8cc3ee" stroke-width="0.75" stroke-linecap="round" fill="none">
<line x1="0.0" y1="0.0" x2="-0.6" y2="29.3"/>
<line x1="0.0" y1="0.0" x2="20.0" y2="36.0"/>
<line x1="-0.6" y1="29.3" x2="20.0" y2="36.0"/>
<line x1="20.9" y1="8.0" x2="20.2" y2="37.3"/>
<line x1="20.9" y1="8.0" x2="40.9" y2="44.0"/>
<line x1="20.2" y1="37.3" x2="40.9" y2="44.0"/>
<line x1="41.7" y1="16.0" x2="41.1" y2="45.3"/>
<line x1="41.7" y1="16.0" x2="61.7" y2="52.0"/>
<line x1="41.1" y1="45.3" x2="61.7" y2="52.0"/>
<line x1="82.7" y1="16.0" x2="61.7" y2="52.0"/>
<line x1="61.7" y1="52.0" x2="82.1" y2="45.3"/>
<line x1="82.7" y1="16.0" x2="82.1" y2="45.3"/>
<line x1="82.7" y1="16.0" x2="102.7" y2="52.0"/>
<line x1="82.1" y1="45.3" x2="102.7" y2="52.0"/>
<line x1="123.7" y1="16.0" x2="102.7" y2="52.0"/>
<line x1="102.7" y1="52.0" x2="123.1" y2="45.3"/>
<line x1="123.7" y1="16.0" x2="123.1" y2="45.3"/>
<line x1="123.7" y1="16.0" x2="143.7" y2="52.0"/>
<line x1="123.1" y1="45.3" x2="143.7" y2="52.0"/>
<line x1="164.7" y1="16.0" x2="143.7" y2="52.0"/>
<line x1="143.7" y1="52.0" x2="164.1" y2="45.3"/>
<line x1="164.7" y1="16.0" x2="164.1" y2="45.3"/>
<line x1="164.7" y1="16.0" x2="184.7" y2="52.0"/>
<line x1="164.1" y1="45.3" x2="184.7" y2="52.0"/>
<line x1="205.7" y1="16.0" x2="184.7" y2="52.0"/>
<line x1="184.7" y1="52.0" x2="205.1" y2="45.3"/>
<line x1="205.7" y1="16.0" x2="205.1" y2="45.3"/>
<line x1="205.7" y1="16.0" x2="225.7" y2="52.0"/>
<line x1="205.1" y1="45.3" x2="225.7" y2="52.0"/>
<line x1="246.7" y1="16.0" x2="225.7" y2="52.0"/>
<line x1="225.7" y1="52.0" x2="247.9" y2="45.2"/>
<line x1="246.7" y1="16.0" x2="247.9" y2="45.2"/>
<line x1="0.0" y1="0.0" x2="205.0" y2="0.0"/>
<line x1="20.9" y1="8.0" x2="225.8" y2="8.0"/>
<line x1="41.7" y1="16.0" x2="246.7" y2="16.0"/>
<line x1="0.0" y1="0.0" x2="41.7" y2="16.0"/>
<line x1="20.1" y1="-8.0" x2="82.7" y2="16.0"/>
<line x1="61.1" y1="-8.0" x2="123.7" y2="16.0"/>
<line x1="102.2" y1="-8.0" x2="164.7" y2="16.0"/>
<line x1="143.2" y1="-8.0" x2="205.7" y2="16.0"/>
<line x1="184.2" y1="-8.0" x2="246.7" y2="16.0"/>
<line x1="0.0" y1="0.0" x2="20.1" y2="-8.0"/>
<line x1="20.9" y1="8.0" x2="61.1" y2="-8.0"/>
<line x1="41.7" y1="16.0" x2="102.2" y2="-8.0"/>
<line x1="82.7" y1="16.0" x2="143.2" y2="-8.0"/>
<line x1="123.7" y1="16.0" x2="184.2" y2="-8.0"/>
<line x1="164.7" y1="16.0" x2="205.0" y2="0.0"/>
<line x1="205.7" y1="16.0" x2="225.8" y2="8.0"/>
</g>
<g fill="url(#gy)">
<circle cx="-0.3" cy="-0.5" r="2.3"/>
<circle cx="40.7" cy="-0.5" r="2.3"/>
<circle cx="81.7" cy="-0.5" r="2.3"/>
<circle cx="122.7" cy="-0.5" r="2.3"/>
<circle cx="163.7" cy="-0.5" r="2.3"/>
<circle cx="204.7" cy="-0.5" r="2.3"/>
<circle cx="20.6" cy="7.5" r="2.3"/>
<circle cx="61.6" cy="7.5" r="2.3"/>
<circle cx="102.5" cy="7.5" r="2.3"/>
<circle cx="143.5" cy="7.5" r="2.3"/>
<circle cx="184.5" cy="7.5" r="2.3"/>
<circle cx="225.5" cy="7.5" r="2.3"/>
<circle cx="41.4" cy="15.5" r="2.3"/>
<circle cx="82.4" cy="15.5" r="2.3"/>
<circle cx="123.4" cy="15.5" r="2.3"/>
<circle cx="164.4" cy="15.5" r="2.3"/>
<circle cx="205.4" cy="15.5" r="2.3"/>
<circle cx="246.4" cy="15.5" r="2.3"/>
<circle cx="19.8" cy="-8.5" r="2.3"/>
<circle cx="60.9" cy="-8.5" r="2.3"/>
<circle cx="101.9" cy="-8.5" r="2.3"/>
<circle cx="142.8" cy="-8.5" r="2.3"/>
<circle cx="183.8" cy="-8.5" r="2.3"/>
</g></g>
<g transform="translate(1022,169.9) rotate(-3.3)">
<g fill="url(#gy)">
<circle cx="-1.5" cy="29.5" r="2.3"/>
<circle cx="19.4" cy="37.5" r="2.3"/>
<circle cx="40.2" cy="45.5" r="2.3"/>
<circle cx="61.4" cy="52.6" r="2.3"/>
<circle cx="82.1" cy="46.4" r="2.3"/>
<circle cx="102.4" cy="52.6" r="2.3"/>
<circle cx="123.1" cy="46.4" r="2.3"/>
<circle cx="143.4" cy="52.6" r="2.3"/>
<circle cx="164.1" cy="46.4" r="2.3"/>
<circle cx="184.4" cy="52.6" r="2.3"/>
<circle cx="205.1" cy="46.4" r="2.3"/>
<circle cx="225.4" cy="52.6" r="2.3"/>
<circle cx="248.6" cy="45.4" r="2.3"/>
</g>
<g stroke-width="0.5" stroke-linejoin="round">
<polygon points="0.0,0.0 41.0,0.0 20.1,-8.0" fill="#2f6dbd" stroke="#2f6dbd"/>
<polygon points="0.0,0.0 -0.6,29.3 20.0,36.0" fill="#4a8cd3" stroke="#4a8cd3"/>
<polygon points="0.0,0.0 41.0,0.0 20.0,36.0" fill="#2b66b6" stroke="#2b66b6"/>
<polygon points="41.0,0.0 20.0,36.0 40.4,29.3" fill="#2560b3" stroke="#2560b3"/>
<polygon points="41.0,0.0 82.0,0.0 61.1,-8.0" fill="#2f6dbd" stroke="#2f6dbd"/>
<polygon points="41.0,0.0 40.4,29.3 61.0,36.0" fill="#4a8cd3" stroke="#4a8cd3"/>
<polygon points="41.0,0.0 82.0,0.0 61.0,36.0" fill="#2b66b6" stroke="#2b66b6"/>
<polygon points="82.0,0.0 61.0,36.0 81.4,29.3" fill="#2560b3" stroke="#2560b3"/>
<polygon points="82.0,0.0 123.0,0.0 102.2,-8.0" fill="#2f6dbd" stroke="#2f6dbd"/>
<polygon points="82.0,0.0 81.4,29.3 102.0,36.0" fill="#4a8cd3" stroke="#4a8cd3"/>
<polygon points="82.0,0.0 123.0,0.0 102.0,36.0" fill="#2b66b6" stroke="#2b66b6"/>
<polygon points="123.0,0.0 102.0,36.0 122.4,29.3" fill="#2560b3" stroke="#2560b3"/>
<polygon points="123.0,0.0 164.0,0.0 143.2,-8.0" fill="#2f6dbd" stroke="#2f6dbd"/>
<polygon points="123.0,0.0 122.4,29.3 143.0,36.0" fill="#4a8cd3" stroke="#4a8cd3"/>
<polygon points="123.0,0.0 164.0,0.0 143.0,36.0" fill="#2b66b6" stroke="#2b66b6"/>
<polygon points="164.0,0.0 143.0,36.0 163.4,29.3" fill="#2560b3" stroke="#2560b3"/>
<polygon points="164.0,0.0 205.0,0.0 184.2,-8.0" fill="#2f6dbd" stroke="#2f6dbd"/>
<polygon points="164.0,0.0 163.4,29.3 184.0,36.0" fill="#4a8cd3" stroke="#4a8cd3"/>
<polygon points="164.0,0.0 205.0,0.0 184.0,36.0" fill="#2b66b6" stroke="#2b66b6"/>
<polygon points="205.0,0.0 184.0,36.0 204.4,29.3" fill="#2560b3" stroke="#2560b3"/>
<polygon points="20.9,8.0 0.0,0.0 41.0,0.0" fill="#2f6dbd" stroke="#2f6dbd"/>
<polygon points="20.9,8.0 61.9,8.0 41.0,0.0" fill="#2f6dbd" stroke="#2f6dbd"/>
<polygon points="20.9,8.0 20.2,37.3 40.9,44.0" fill="#4a8cd3" stroke="#4a8cd3"/>
<polygon points="20.9,8.0 61.9,8.0 40.9,44.0" fill="#2b66b6" stroke="#2b66b6"/>
<polygon points="61.9,8.0 40.9,44.0 61.2,37.3" fill="#2560b3" stroke="#2560b3"/>
<polygon points="61.9,8.0 41.0,0.0 82.0,0.0" fill="#2f6dbd" stroke="#2f6dbd"/>
<polygon points="61.9,8.0 102.8,8.0 82.0,0.0" fill="#2f6dbd" stroke="#2f6dbd"/>
<polygon points="61.9,8.0 61.2,37.3 81.8,44.0" fill="#4a8cd3" stroke="#4a8cd3"/>
<polygon points="61.9,8.0 102.8,8.0 81.8,44.0" fill="#2b66b6" stroke="#2b66b6"/>
<polygon points="102.8,8.0 81.8,44.0 102.2,37.3" fill="#2560b3" stroke="#2560b3"/>
<polygon points="102.8,8.0 82.0,0.0 123.0,0.0" fill="#2f6dbd" stroke="#2f6dbd"/>
<polygon points="102.8,8.0 143.8,8.0 123.0,0.0" fill="#2f6dbd" stroke="#2f6dbd"/>
<polygon points="102.8,8.0 102.2,37.3 122.8,44.0" fill="#4a8cd3" stroke="#4a8cd3"/>
<polygon points="102.8,8.0 143.8,8.0 122.8,44.0" fill="#2b66b6" stroke="#2b66b6"/>
<polygon points="143.8,8.0 122.8,44.0 143.2,37.3" fill="#2560b3" stroke="#2560b3"/>
<polygon points="143.8,8.0 123.0,0.0 164.0,0.0" fill="#2f6dbd" stroke="#2f6dbd"/>
<polygon points="143.8,8.0 184.8,8.0 164.0,0.0" fill="#2f6dbd" stroke="#2f6dbd"/>
<polygon points="143.8,8.0 143.2,37.3 163.8,44.0" fill="#4a8cd3" stroke="#4a8cd3"/>
<polygon points="143.8,8.0 184.8,8.0 163.8,44.0" fill="#2b66b6" stroke="#2b66b6"/>
<polygon points="184.8,8.0 163.8,44.0 184.2,37.3" fill="#2560b3" stroke="#2560b3"/>
<polygon points="184.8,8.0 164.0,0.0 205.0,0.0" fill="#2f6dbd" stroke="#2f6dbd"/>
<polygon points="184.8,8.0 225.8,8.0 205.0,0.0" fill="#2f6dbd" stroke="#2f6dbd"/>
<polygon points="184.8,8.0 184.2,37.3 204.8,44.0" fill="#4a8cd3" stroke="#4a8cd3"/>
<polygon points="184.8,8.0 225.8,8.0 204.8,44.0" fill="#2b66b6" stroke="#2b66b6"/>
<polygon points="225.8,8.0 204.8,44.0 225.2,37.3" fill="#2560b3" stroke="#2560b3"/>
<polygon points="41.7,16.0 20.9,8.0 61.9,8.0" fill="#2f6dbd" stroke="#2f6dbd"/>
<polygon points="41.7,16.0 82.7,16.0 61.9,8.0" fill="#2f6dbd" stroke="#2f6dbd"/>
<polygon points="41.7,16.0 41.1,45.3 61.7,52.0" fill="#4a8cd3" stroke="#4a8cd3"/>
<polygon points="41.7,16.0 82.7,16.0 61.7,52.0" fill="#3875c4" stroke="#3875c4"/>
<polygon points="82.7,16.0 61.7,52.0 82.1,45.3" fill="#2560b3" stroke="#2560b3"/>
<polygon points="82.7,16.0 61.9,8.0 102.8,8.0" fill="#2f6dbd" stroke="#2f6dbd"/>
<polygon points="82.7,16.0 123.7,16.0 102.8,8.0" fill="#2f6dbd" stroke="#2f6dbd"/>
<polygon points="82.7,16.0 82.1,45.3 102.7,52.0" fill="#4a8cd3" stroke="#4a8cd3"/>
<polygon points="82.7,16.0 123.7,16.0 102.7,52.0" fill="#3875c4" stroke="#3875c4"/>
<polygon points="123.7,16.0 102.7,52.0 123.1,45.3" fill="#2560b3" stroke="#2560b3"/>
<polygon points="123.7,16.0 102.8,8.0 143.8,8.0" fill="#2f6dbd" stroke="#2f6dbd"/>
<polygon points="123.7,16.0 164.7,16.0 143.8,8.0" fill="#2f6dbd" stroke="#2f6dbd"/>
<polygon points="123.7,16.0 123.1,45.3 143.7,52.0" fill="#4a8cd3" stroke="#4a8cd3"/>
<polygon points="123.7,16.0 164.7,16.0 143.7,52.0" fill="#3875c4" stroke="#3875c4"/>
<polygon points="164.7,16.0 143.7,52.0 164.1,45.3" fill="#2560b3" stroke="#2560b3"/>
<polygon points="164.7,16.0 143.8,8.0 184.8,8.0" fill="#2f6dbd" stroke="#2f6dbd"/>
<polygon points="164.7,16.0 205.7,16.0 184.8,8.0" fill="#2f6dbd" stroke="#2f6dbd"/>
<polygon points="164.7,16.0 164.1,45.3 184.7,52.0" fill="#4a8cd3" stroke="#4a8cd3"/>
<polygon points="164.7,16.0 205.7,16.0 184.7,52.0" fill="#3875c4" stroke="#3875c4"/>
<polygon points="205.7,16.0 184.7,52.0 205.1,45.3" fill="#2560b3" stroke="#2560b3"/>
<polygon points="205.7,16.0 184.8,8.0 225.8,8.0" fill="#2f6dbd" stroke="#2f6dbd"/>
<polygon points="205.7,16.0 246.7,16.0 225.8,8.0" fill="#2f6dbd" stroke="#2f6dbd"/>
<polygon points="205.7,16.0 205.1,45.3 225.7,52.0" fill="#4a8cd3" stroke="#4a8cd3"/>
<polygon points="205.7,16.0 246.7,16.0 225.7,52.0" fill="#3875c4" stroke="#3875c4"/>
<polygon points="246.7,16.0 225.7,52.0 247.9,45.2" fill="#2560b3" stroke="#2560b3"/>
</g>
<g stroke="#8cc3ee" stroke-width="0.75" stroke-linecap="round" fill="none">
<line x1="0.0" y1="0.0" x2="-0.6" y2="29.3"/>
<line x1="0.0" y1="0.0" x2="20.0" y2="36.0"/>
<line x1="-0.6" y1="29.3" x2="20.0" y2="36.0"/>
<line x1="20.9" y1="8.0" x2="20.2" y2="37.3"/>
<line x1="20.9" y1="8.0" x2="40.9" y2="44.0"/>
<line x1="20.2" y1="37.3" x2="40.9" y2="44.0"/>
<line x1="41.7" y1="16.0" x2="41.1" y2="45.3"/>
<line x1="41.7" y1="16.0" x2="61.7" y2="52.0"/>
<line x1="41.1" y1="45.3" x2="61.7" y2="52.0"/>
<line x1="82.7" y1="16.0" x2="61.7" y2="52.0"/>
<line x1="61.7" y1="52.0" x2="82.1" y2="45.3"/>
<line x1="82.7" y1="16.0" x2="82.1" y2="45.3"/>
<line x1="82.7" y1="16.0" x2="102.7" y2="52.0"/>
<line x1="82.1" y1="45.3" x2="102.7" y2="52.0"/>
<line x1="123.7" y1="16.0" x2="102.7" y2="52.0"/>
<line x1="102.7" y1="52.0" x2="123.1" y2="45.3"/>
<line x1="123.7" y1="16.0" x2="123.1" y2="45.3"/>
<line x1="123.7" y1="16.0" x2="143.7" y2="52.0"/>
<line x1="123.1" y1="45.3" x2="143.7" y2="52.0"/>
<line x1="164.7" y1="16.0" x2="143.7" y2="52.0"/>
<line x1="143.7" y1="52.0" x2="164.1" y2="45.3"/>
<line x1="164.7" y1="16.0" x2="164.1" y2="45.3"/>
<line x1="164.7" y1="16.0" x2="184.7" y2="52.0"/>
<line x1="164.1" y1="45.3" x2="184.7" y2="52.0"/>
<line x1="205.7" y1="16.0" x2="184.7" y2="52.0"/>
<line x1="184.7" y1="52.0" x2="205.1" y2="45.3"/>
<line x1="205.7" y1="16.0" x2="205.1" y2="45.3"/>
<line x1="205.7" y1="16.0" x2="225.7" y2="52.0"/>
<line x1="205.1" y1="45.3" x2="225.7" y2="52.0"/>
<line x1="246.7" y1="16.0" x2="225.7" y2="52.0"/>
<line x1="225.7" y1="52.0" x2="247.9" y2="45.2"/>
<line x1="246.7" y1="16.0" x2="247.9" y2="45.2"/>
<line x1="0.0" y1="0.0" x2="205.0" y2="0.0"/>
<line x1="20.9" y1="8.0" x2="225.8" y2="8.0"/>
<line x1="41.7" y1="16.0" x2="246.7" y2="16.0"/>
<line x1="0.0" y1="0.0" x2="41.7" y2="16.0"/>
<line x1="20.1" y1="-8.0" x2="82.7" y2="16.0"/>
<line x1="61.1" y1="-8.0" x2="123.7" y2="16.0"/>
<line x1="102.2" y1="-8.0" x2="164.7" y2="16.0"/>
<line x1="143.2" y1="-8.0" x2="205.7" y2="16.0"/>
<line x1="184.2" y1="-8.0" x2="246.7" y2="16.0"/>
<line x1="0.0" y1="0.0" x2="20.1" y2="-8.0"/>
<line x1="20.9" y1="8.0" x2="61.1" y2="-8.0"/>
<line x1="41.7" y1="16.0" x2="102.2" y2="-8.0"/>
<line x1="82.7" y1="16.0" x2="143.2" y2="-8.0"/>
<line x1="123.7" y1="16.0" x2="184.2" y2="-8.0"/>
<line x1="164.7" y1="16.0" x2="205.0" y2="0.0"/>
<line x1="205.7" y1="16.0" x2="225.8" y2="8.0"/>
</g>
<g fill="url(#gy)">
<circle cx="-0.3" cy="-0.5" r="2.3"/>
<circle cx="40.7" cy="-0.5" r="2.3"/>
<circle cx="81.7" cy="-0.5" r="2.3"/>
<circle cx="122.7" cy="-0.5" r="2.3"/>
<circle cx="163.7" cy="-0.5" r="2.3"/>
<circle cx="204.7" cy="-0.5" r="2.3"/>
<circle cx="20.6" cy="7.5" r="2.3"/>
<circle cx="61.6" cy="7.5" r="2.3"/>
<circle cx="102.5" cy="7.5" r="2.3"/>
<circle cx="143.5" cy="7.5" r="2.3"/>
<circle cx="184.5" cy="7.5" r="2.3"/>
<circle cx="225.5" cy="7.5" r="2.3"/>
<circle cx="41.4" cy="15.5" r="2.3"/>
<circle cx="82.4" cy="15.5" r="2.3"/>
<circle cx="123.4" cy="15.5" r="2.3"/>
<circle cx="164.4" cy="15.5" r="2.3"/>
<circle cx="205.4" cy="15.5" r="2.3"/>
<circle cx="246.4" cy="15.5" r="2.3"/>
<circle cx="19.8" cy="-8.5" r="2.3"/>
<circle cx="60.9" cy="-8.5" r="2.3"/>
<circle cx="101.9" cy="-8.5" r="2.3"/>
<circle cx="142.8" cy="-8.5" r="2.3"/>
<circle cx="183.8" cy="-8.5" r="2.3"/>
</g></g>
<g transform="translate(1019.8,388.9) rotate(3.4)">
<g fill="url(#gy)">
<circle cx="-1.5" cy="29.5" r="2.3"/>
<circle cx="19.4" cy="37.5" r="2.3"/>
<circle cx="40.2" cy="45.5" r="2.3"/>
<circle cx="61.4" cy="52.6" r="2.3"/>
<circle cx="82.1" cy="46.4" r="2.3"/>
<circle cx="102.4" cy="52.6" r="2.3"/>
<circle cx="123.1" cy="46.4" r="2.3"/>
<circle cx="143.4" cy="52.6" r="2.3"/>
<circle cx="164.1" cy="46.4" r="2.3"/>
<circle cx="184.4" cy="52.6" r="2.3"/>
<circle cx="205.1" cy="46.4" r="2.3"/>
<circle cx="225.4" cy="52.6" r="2.3"/>
<circle cx="248.6" cy="45.4" r="2.3"/>
</g>
<g stroke-width="0.5" stroke-linejoin="round">
<polygon points="0.0,0.0 41.0,0.0 20.1,-8.0" fill="#2f6dbd" stroke="#2f6dbd"/>
<polygon points="0.0,0.0 -0.6,29.3 20.0,36.0" fill="#4a8cd3" stroke="#4a8cd3"/>
<polygon points="0.0,0.0 41.0,0.0 20.0,36.0" fill="#2b66b6" stroke="#2b66b6"/>
<polygon points="41.0,0.0 20.0,36.0 40.4,29.3" fill="#2560b3" stroke="#2560b3"/>
<polygon points="41.0,0.0 82.0,0.0 61.1,-8.0" fill="#2f6dbd" stroke="#2f6dbd"/>
<polygon points="41.0,0.0 40.4,29.3 61.0,36.0" fill="#4a8cd3" stroke="#4a8cd3"/>
<polygon points="41.0,0.0 82.0,0.0 61.0,36.0" fill="#2b66b6" stroke="#2b66b6"/>
<polygon points="82.0,0.0 61.0,36.0 81.4,29.3" fill="#2560b3" stroke="#2560b3"/>
<polygon points="82.0,0.0 123.0,0.0 102.2,-8.0" fill="#2f6dbd" stroke="#2f6dbd"/>
<polygon points="82.0,0.0 81.4,29.3 102.0,36.0" fill="#4a8cd3" stroke="#4a8cd3"/>
<polygon points="82.0,0.0 123.0,0.0 102.0,36.0" fill="#2b66b6" stroke="#2b66b6"/>
<polygon points="123.0,0.0 102.0,36.0 122.4,29.3" fill="#2560b3" stroke="#2560b3"/>
<polygon points="123.0,0.0 164.0,0.0 143.2,-8.0" fill="#2f6dbd" stroke="#2f6dbd"/>
<polygon points="123.0,0.0 122.4,29.3 143.0,36.0" fill="#4a8cd3" stroke="#4a8cd3"/>
<polygon points="123.0,0.0 164.0,0.0 143.0,36.0" fill="#2b66b6" stroke="#2b66b6"/>
<polygon points="164.0,0.0 143.0,36.0 163.4,29.3" fill="#2560b3" stroke="#2560b3"/>
<polygon points="164.0,0.0 205.0,0.0 184.2,-8.0" fill="#2f6dbd" stroke="#2f6dbd"/>
<polygon points="164.0,0.0 163.4,29.3 184.0,36.0" fill="#4a8cd3" stroke="#4a8cd3"/>
<polygon points="164.0,0.0 205.0,0.0 184.0,36.0" fill="#2b66b6" stroke="#2b66b6"/>
<polygon points="205.0,0.0 184.0,36.0 204.4,29.3" fill="#2560b3" stroke="#2560b3"/>
<polygon points="20.9,8.0 0.0,0.0 41.0,0.0" fill="#2f6dbd" stroke="#2f6dbd"/>
<polygon points="20.9,8.0 61.9,8.0 41.0,0.0" fill="#2f6dbd" stroke="#2f6dbd"/>
<polygon points="20.9,8.0 20.2,37.3 40.9,44.0" fill="#4a8cd3" stroke="#4a8cd3"/>
<polygon points="20.9,8.0 61.9,8.0 40.9,44.0" fill="#2b66b6" stroke="#2b66b6"/>
<polygon points="61.9,8.0 40.9,44.0 61.2,37.3" fill="#2560b3" stroke="#2560b3"/>
<polygon points="61.9,8.0 41.0,0.0 82.0,0.0" fill="#2f6dbd" stroke="#2f6dbd"/>
<polygon points="61.9,8.0 102.8,8.0 82.0,0.0" fill="#2f6dbd" stroke="#2f6dbd"/>
<polygon points="61.9,8.0 61.2,37.3 81.8,44.0" fill="#4a8cd3" stroke="#4a8cd3"/>
<polygon points="61.9,8.0 102.8,8.0 81.8,44.0" fill="#2b66b6" stroke="#2b66b6"/>
<polygon points="102.8,8.0 81.8,44.0 102.2,37.3" fill="#2560b3" stroke="#2560b3"/>
<polygon points="102.8,8.0 82.0,0.0 123.0,0.0" fill="#2f6dbd" stroke="#2f6dbd"/>
<polygon points="102.8,8.0 143.8,8.0 123.0,0.0" fill="#2f6dbd" stroke="#2f6dbd"/>
<polygon points="102.8,8.0 102.2,37.3 122.8,44.0" fill="#4a8cd3" stroke="#4a8cd3"/>
<polygon points="102.8,8.0 143.8,8.0 122.8,44.0" fill="#2b66b6" stroke="#2b66b6"/>
<polygon points="143.8,8.0 122.8,44.0 143.2,37.3" fill="#2560b3" stroke="#2560b3"/>
<polygon points="143.8,8.0 123.0,0.0 164.0,0.0" fill="#2f6dbd" stroke="#2f6dbd"/>
<polygon points="143.8,8.0 184.8,8.0 164.0,0.0" fill="#2f6dbd" stroke="#2f6dbd"/>
<polygon points="143.8,8.0 143.2,37.3 163.8,44.0" fill="#4a8cd3" stroke="#4a8cd3"/>
<polygon points="143.8,8.0 184.8,8.0 163.8,44.0" fill="#2b66b6" stroke="#2b66b6"/>
<polygon points="184.8,8.0 163.8,44.0 184.2,37.3" fill="#2560b3" stroke="#2560b3"/>
<polygon points="184.8,8.0 164.0,0.0 205.0,0.0" fill="#2f6dbd" stroke="#2f6dbd"/>
<polygon points="184.8,8.0 225.8,8.0 205.0,0.0" fill="#2f6dbd" stroke="#2f6dbd"/>
<polygon points="184.8,8.0 184.2,37.3 204.8,44.0" fill="#4a8cd3" stroke="#4a8cd3"/>
<polygon points="184.8,8.0 225.8,8.0 204.8,44.0" fill="#2b66b6" stroke="#2b66b6"/>
<polygon points="225.8,8.0 204.8,44.0 225.2,37.3" fill="#2560b3" stroke="#2560b3"/>
<polygon points="41.7,16.0 20.9,8.0 61.9,8.0" fill="#2f6dbd" stroke="#2f6dbd"/>
<polygon points="41.7,16.0 82.7,16.0 61.9,8.0" fill="#2f6dbd" stroke="#2f6dbd"/>
<polygon points="41.7,16.0 41.1,45.3 61.7,52.0" fill="#4a8cd3" stroke="#4a8cd3"/>
<polygon points="41.7,16.0 82.7,16.0 61.7,52.0" fill="#3875c4" stroke="#3875c4"/>
<polygon points="82.7,16.0 61.7,52.0 82.1,45.3" fill="#2560b3" stroke="#2560b3"/>
<polygon points="82.7,16.0 61.9,8.0 102.8,8.0" fill="#2f6dbd" stroke="#2f6dbd"/>
<polygon points="82.7,16.0 123.7,16.0 102.8,8.0" fill="#2f6dbd" stroke="#2f6dbd"/>
<polygon points="82.7,16.0 82.1,45.3 102.7,52.0" fill="#4a8cd3" stroke="#4a8cd3"/>
<polygon points="82.7,16.0 123.7,16.0 102.7,52.0" fill="#3875c4" stroke="#3875c4"/>
<polygon points="123.7,16.0 102.7,52.0 123.1,45.3" fill="#2560b3" stroke="#2560b3"/>
<polygon points="123.7,16.0 102.8,8.0 143.8,8.0" fill="#2f6dbd" stroke="#2f6dbd"/>
<polygon points="123.7,16.0 164.7,16.0 143.8,8.0" fill="#2f6dbd" stroke="#2f6dbd"/>
<polygon points="123.7,16.0 123.1,45.3 143.7,52.0" fill="#4a8cd3" stroke="#4a8cd3"/>
<polygon points="123.7,16.0 164.7,16.0 143.7,52.0" fill="#3875c4" stroke="#3875c4"/>
<polygon points="164.7,16.0 143.7,52.0 164.1,45.3" fill="#2560b3" stroke="#2560b3"/>
<polygon points="164.7,16.0 143.8,8.0 184.8,8.0" fill="#2f6dbd" stroke="#2f6dbd"/>
<polygon points="164.7,16.0 205.7,16.0 184.8,8.0" fill="#2f6dbd" stroke="#2f6dbd"/>
<polygon points="164.7,16.0 164.1,45.3 184.7,52.0" fill="#4a8cd3" stroke="#4a8cd3"/>
<polygon points="164.7,16.0 205.7,16.0 184.7,52.0" fill="#3875c4" stroke="#3875c4"/>
<polygon points="205.7,16.0 184.7,52.0 205.1,45.3" fill="#2560b3" stroke="#2560b3"/>
<polygon points="205.7,16.0 184.8,8.0 225.8,8.0" fill="#2f6dbd" stroke="#2f6dbd"/>
<polygon points="205.7,16.0 246.7,16.0 225.8,8.0" fill="#2f6dbd" stroke="#2f6dbd"/>
<polygon points="205.7,16.0 205.1,45.3 225.7,52.0" fill="#4a8cd3" stroke="#4a8cd3"/>
<polygon points="205.7,16.0 246.7,16.0 225.7,52.0" fill="#3875c4" stroke="#3875c4"/>
<polygon points="246.7,16.0 225.7,52.0 247.9,45.2" fill="#2560b3" stroke="#2560b3"/>
</g>
<g stroke="#8cc3ee" stroke-width="0.75" stroke-linecap="round" fill="none">
<line x1="0.0" y1="0.0" x2="-0.6" y2="29.3"/>
<line x1="0.0" y1="0.0" x2="20.0" y2="36.0"/>
<line x1="-0.6" y1="29.3" x2="20.0" y2="36.0"/>
<line x1="20.9" y1="8.0" x2="20.2" y2="37.3"/>
<line x1="20.9" y1="8.0" x2="40.9" y2="44.0"/>
<line x1="20.2" y1="37.3" x2="40.9" y2="44.0"/>
<line x1="41.7" y1="16.0" x2="41.1" y2="45.3"/>
<line x1="41.7" y1="16.0" x2="61.7" y2="52.0"/>
<line x1="41.1" y1="45.3" x2="61.7" y2="52.0"/>
<line x1="82.7" y1="16.0" x2="61.7" y2="52.0"/>
<line x1="61.7" y1="52.0" x2="82.1" y2="45.3"/>
<line x1="82.7" y1="16.0" x2="82.1" y2="45.3"/>
<line x1="82.7" y1="16.0" x2="102.7" y2="52.0"/>
<line x1="82.1" y1="45.3" x2="102.7" y2="52.0"/>
<line x1="123.7" y1="16.0" x2="102.7" y2="52.0"/>
<line x1="102.7" y1="52.0" x2="123.1" y2="45.3"/>
<line x1="123.7" y1="16.0" x2="123.1" y2="45.3"/>
<line x1="123.7" y1="16.0" x2="143.7" y2="52.0"/>
<line x1="123.1" y1="45.3" x2="143.7" y2="52.0"/>
<line x1="164.7" y1="16.0" x2="143.7" y2="52.0"/>
<line x1="143.7" y1="52.0" x2="164.1" y2="45.3"/>
<line x1="164.7" y1="16.0" x2="164.1" y2="45.3"/>
<line x1="164.7" y1="16.0" x2="184.7" y2="52.0"/>
<line x1="164.1" y1="45.3" x2="184.7" y2="52.0"/>
<line x1="205.7" y1="16.0" x2="184.7" y2="52.0"/>
<line x1="184.7" y1="52.0" x2="205.1" y2="45.3"/>
<line x1="205.7" y1="16.0" x2="205.1" y2="45.3"/>
<line x1="205.7" y1="16.0" x2="225.7" y2="52.0"/>
<line x1="205.1" y1="45.3" x2="225.7" y2="52.0"/>
<line x1="246.7" y1="16.0" x2="225.7" y2="52.0"/>
<line x1="225.7" y1="52.0" x2="247.9" y2="45.2"/>
<line x1="246.7" y1="16.0" x2="247.9" y2="45.2"/>
<line x1="0.0" y1="0.0" x2="205.0" y2="0.0"/>
<line x1="20.9" y1="8.0" x2="225.8" y2="8.0"/>
<line x1="41.7" y1="16.0" x2="246.7" y2="16.0"/>
<line x1="0.0" y1="0.0" x2="41.7" y2="16.0"/>
<line x1="20.1" y1="-8.0" x2="82.7" y2="16.0"/>
<line x1="61.1" y1="-8.0" x2="123.7" y2="16.0"/>
<line x1="102.2" y1="-8.0" x2="164.7" y2="16.0"/>
<line x1="143.2" y1="-8.0" x2="205.7" y2="16.0"/>
<line x1="184.2" y1="-8.0" x2="246.7" y2="16.0"/>
<line x1="0.0" y1="0.0" x2="20.1" y2="-8.0"/>
<line x1="20.9" y1="8.0" x2="61.1" y2="-8.0"/>
<line x1="41.7" y1="16.0" x2="102.2" y2="-8.0"/>
<line x1="82.7" y1="16.0" x2="143.2" y2="-8.0"/>
<line x1="123.7" y1="16.0" x2="184.2" y2="-8.0"/>
<line x1="164.7" y1="16.0" x2="205.0" y2="0.0"/>
<line x1="205.7" y1="16.0" x2="225.8" y2="8.0"/>
</g>
<g fill="url(#gy)">
<circle cx="-0.3" cy="-0.5" r="2.3"/>
<circle cx="40.7" cy="-0.5" r="2.3"/>
<circle cx="81.7" cy="-0.5" r="2.3"/>
<circle cx="122.7" cy="-0.5" r="2.3"/>
<circle cx="163.7" cy="-0.5" r="2.3"/>
<circle cx="204.7" cy="-0.5" r="2.3"/>
<circle cx="20.6" cy="7.5" r="2.3"/>
<circle cx="61.6" cy="7.5" r="2.3"/>
<circle cx="102.5" cy="7.5" r="2.3"/>
<circle cx="143.5" cy="7.5" r="2.3"/>
<circle cx="184.5" cy="7.5" r="2.3"/>
<circle cx="225.5" cy="7.5" r="2.3"/>
<circle cx="41.4" cy="15.5" r="2.3"/>
<circle cx="82.4" cy="15.5" r="2.3"/>
<circle cx="123.4" cy="15.5" r="2.3"/>
<circle cx="164.4" cy="15.5" r="2.3"/>
<circle cx="205.4" cy="15.5" r="2.3"/>
<circle cx="246.4" cy="15.5" r="2.3"/>
<circle cx="19.8" cy="-8.5" r="2.3"/>
<circle cx="60.9" cy="-8.5" r="2.3"/>
<circle cx="101.9" cy="-8.5" r="2.3"/>
<circle cx="142.8" cy="-8.5" r="2.3"/>
<circle cx="183.8" cy="-8.5" r="2.3"/>
</g></g>
<polygon points="264.2,311.6 327.0,311.6 327.0,305.5 335.7,321.9 327.0,338.3 327.0,332.2 264.2,332.2" fill="url(#ga)"/>
<polygon points="591.1,310.9 653.8,310.9 653.8,304.8 663.0,321.2 653.8,337.6 653.8,331.5 591.1,331.5" fill="url(#ga)"/>
<polygon points="936.0,303.7 998.6,303.7 998.6,297.6 1007.7,314.0 998.6,330.4 998.6,324.3 936.0,324.3" fill="url(#ga)"/>
<use href="#py14" x="416.1" y="315"/>
<use href="#py14" x="530.7" y="315.3"/>
<use href="#py14" x="789.1" y="275.5"/>
<use href="#py14" x="909.3" y="274.2"/>
<use href="#py14" x="741.5" y="327.8"/>
<use href="#py14" x="861.2" y="324.4"/>
<use href="#thf" x="791.6" y="302.2"/>
<line x1="723.6" y1="229.3" x2="723.6" y2="240.15" stroke="#c264ad" stroke-width="2.0"/><line x1="723.6" y1="240.15" x2="723.6" y2="251" stroke="#5cb45c" stroke-width="2.0"/><circle cx="723.6" cy="229.3" r="4.4" fill="url(#gm)"/><circle cx="723.6" cy="251" r="4.4" fill="url(#gg)"/>
<line x1="840" y1="229.2" x2="840" y2="240.05" stroke="#c264ad" stroke-width="2.0"/><line x1="840" y1="240.05" x2="840" y2="250.9" stroke="#5cb45c" stroke-width="2.0"/><circle cx="840" cy="229.2" r="4.4" fill="url(#gm)"/><circle cx="840" cy="250.9" r="4.4" fill="url(#gg)"/>
<line x1="803.7" y1="383" x2="803.7" y2="372.35" stroke="#c264ad" stroke-width="2.0"/><line x1="803.7" y1="372.35" x2="803.7" y2="361.7" stroke="#5cb45c" stroke-width="2.0"/><circle cx="803.7" cy="383" r="4.4" fill="url(#gm)"/><circle cx="803.7" cy="361.7" r="4.4" fill="url(#gg)"/>
<use href="#py14" x="1107.1" y="272.1"/>
<use href="#py14" x="1228" y="271.3"/>
<use href="#py14" x="1060.7" y="326"/>
<use href="#py14" x="1179.6" y="320.9"/>
<use href="#thf" x="1163.8" y="257.5"/>
<use href="#thf" x="1117" y="296.3"/>
<line x1="1044.5" y1="215.4" x2="1044.5" y2="226.10000000000002" stroke="#c264ad" stroke-width="2.0"/><line x1="1044.5" y1="226.10000000000002" x2="1044.5" y2="236.8" stroke="#5cb45c" stroke-width="2.0"/><circle cx="1044.5" cy="215.4" r="4.4" fill="url(#gm)"/><circle cx="1044.5" cy="236.8" r="4.4" fill="url(#gg)"/>
<line x1="1107.2" y1="228.4" x2="1107.2" y2="239.10000000000002" stroke="#c264ad" stroke-width="2.0"/><line x1="1107.2" y1="239.10000000000002" x2="1107.2" y2="249.8" stroke="#5cb45c" stroke-width="2.0"/><circle cx="1107.2" cy="228.4" r="4.4" fill="url(#gm)"/><circle cx="1107.2" cy="249.8" r="4.4" fill="url(#gg)"/>
<line x1="1172.4" y1="219.1" x2="1172.4" y2="229.75" stroke="#c264ad" stroke-width="2.0"/><line x1="1172.4" y1="229.75" x2="1172.4" y2="240.4" stroke="#5cb45c" stroke-width="2.0"/><circle cx="1172.4" cy="219.1" r="4.4" fill="url(#gm)"/><circle cx="1172.4" cy="240.4" r="4.4" fill="url(#gg)"/>
<line x1="1234.7" y1="223" x2="1234.7" y2="233.65" stroke="#c264ad" stroke-width="2.0"/><line x1="1234.7" y1="233.65" x2="1234.7" y2="244.3" stroke="#5cb45c" stroke-width="2.0"/><circle cx="1234.7" cy="223" r="4.4" fill="url(#gm)"/><circle cx="1234.7" cy="244.3" r="4.4" fill="url(#gg)"/>
<line x1="1059.3" y1="373.9" x2="1059.3" y2="363.2" stroke="#c264ad" stroke-width="2.0"/><line x1="1059.3" y1="363.2" x2="1059.3" y2="352.5" stroke="#5cb45c" stroke-width="2.0"/><circle cx="1059.3" cy="373.9" r="4.4" fill="url(#gm)"/><circle cx="1059.3" cy="352.5" r="4.4" fill="url(#gg)"/>
<line x1="1115" y1="383.5" x2="1115" y2="373.0" stroke="#c264ad" stroke-width="2.0"/><line x1="1115" y1="373.0" x2="1115" y2="362.5" stroke="#5cb45c" stroke-width="2.0"/><circle cx="1115" cy="383.5" r="4.4" fill="url(#gm)"/><circle cx="1115" cy="362.5" r="4.4" fill="url(#gg)"/>
<line x1="1170.6" y1="373.9" x2="1170.6" y2="363.2" stroke="#c264ad" stroke-width="2.0"/><line x1="1170.6" y1="363.2" x2="1170.6" y2="352.5" stroke="#5cb45c" stroke-width="2.0"/><circle cx="1170.6" cy="373.9" r="4.4" fill="url(#gm)"/><circle cx="1170.6" cy="352.5" r="4.4" fill="url(#gg)"/>
<line x1="1215.2" y1="381.6" x2="1215.2" y2="370.95000000000005" stroke="#c264ad" stroke-width="2.0"/><line x1="1215.2" y1="370.95000000000005" x2="1215.2" y2="360.3" stroke="#5cb45c" stroke-width="2.0"/><circle cx="1215.2" cy="381.6" r="4.4" fill="url(#gm)"/><circle cx="1215.2" cy="360.3" r="4.4" fill="url(#gg)"/>
<use href="#py14" x="1342.5" y="334.9"/>
<use href="#thf" x="1344.6" y="376.8"/>
<g stroke-width="0.5" stroke-linejoin="round">
<polygon points="1333.6,214.5 1314.5,221.4 1351.6,221.4" fill="#2f6dbd" stroke="#2f6dbd"/>
<polygon points="1314.5,221.4 1314.5,248.8 1333.2,255.6" fill="#4a8cd3" stroke="#4a8cd3"/>
<polygon points="1314.5,221.4 1351.6,221.4 1333.2,255.6" fill="#3875c4" stroke="#3875c4"/>
<polygon points="1351.6,221.4 1333.2,255.6 1354.3,249.4" fill="#2560b3" stroke="#2560b3"/>
</g>
<g stroke="#8cc3ee" stroke-width="0.75" stroke-linecap="round">
<line x1="1314.5" y1="221.4" x2="1351.6" y2="221.4"/>
<line x1="1314.5" y1="221.4" x2="1333.6" y2="214.5"/>
<line x1="1333.6" y1="214.5" x2="1351.6" y2="221.4"/>
<line x1="1314.5" y1="221.4" x2="1314.5" y2="248.8"/>
<line x1="1314.5" y1="221.4" x2="1333.2" y2="255.6"/>
<line x1="1351.6" y1="221.4" x2="1333.2" y2="255.6"/>
<line x1="1314.5" y1="248.8" x2="1333.2" y2="255.6"/>
<line x1="1333.2" y1="255.6" x2="1354.3" y2="249.4"/>
<line x1="1351.6" y1="221.4" x2="1354.3" y2="249.4"/>
</g><g fill="url(#gy)">
<circle cx="1333.6" cy="214.5" r="2.1"/>
<circle cx="1314.5" cy="221.4" r="2.1"/>
<circle cx="1351.6" cy="221.4" r="2.1"/>
<circle cx="1314.5" cy="248.8" r="2.1"/>
<circle cx="1333.2" cy="255.6" r="2.1"/>
<circle cx="1354.3" cy="249.4" r="2.1"/>
</g>
<line x1="1316.6" y1="286.7" x2="1334.4" y2="286.7" stroke="#c264ad" stroke-width="3.4"/><line x1="1334.4" y1="286.7" x2="1352.2" y2="286.7" stroke="#5cb45c" stroke-width="3.4"/><circle cx="1316.6" cy="286.7" r="6.8" fill="url(#gm)"/><circle cx="1352.2" cy="286.7" r="6.8" fill="url(#gg)"/>
<!--TEXT-->
<text x="57.20" y="118.30" textLength="118.25" lengthAdjust="spacingAndGlyphs" font-size="22.4" fill="#e65a30" stroke="#fff" stroke-width="0.27" paint-order="fill stroke">Pristine TiS</text>
<text x="174.50" y="122.28" textLength="9.75" lengthAdjust="spacingAndGlyphs" font-size="17" fill="#e65a30" stroke="#fff" stroke-width="0.27" paint-order="fill stroke">2</text>
<text x="375.65" y="96.25" textLength="174.25" lengthAdjust="spacingAndGlyphs" font-size="22.4" fill="#149b50" stroke="#fff" stroke-width="0.27" paint-order="fill stroke">Initial expansion</text>
<text x="349.30" y="135.90" textLength="84.00" lengthAdjust="spacingAndGlyphs" font-size="22.4" fill="#149b50" stroke="#fff" stroke-width="0.27" paint-order="fill stroke">by PY14</text>
<text x="434.15" y="125.55" textLength="9.50" lengthAdjust="spacingAndGlyphs" font-size="16" fill="#149b50" stroke="#fff" stroke-width="0.27" paint-order="fill stroke">+</text>
<text x="449.15" y="135.90" textLength="134.50" lengthAdjust="spacingAndGlyphs" font-size="22.4" fill="#149b50" stroke="#fff" stroke-width="0.27" paint-order="fill stroke">intercalation</text>
<text x="706.10" y="96.25" textLength="194.75" lengthAdjust="spacingAndGlyphs" font-size="22.4" fill="#1b9dd9" stroke="#fff" stroke-width="0.27" paint-order="fill stroke">Further expansion</text>
<text x="701.00" y="135.80" textLength="87.00" lengthAdjust="spacingAndGlyphs" font-size="22.4" fill="#1b9dd9" stroke="#fff" stroke-width="0.27" paint-order="fill stroke">by MgCl</text>
<text x="788.25" y="125.90" textLength="9.00" lengthAdjust="spacingAndGlyphs" font-size="16" fill="#1b9dd9" stroke="#fff" stroke-width="0.27" paint-order="fill stroke">+</text>
<text x="803.70" y="135.80" textLength="99.00" lengthAdjust="spacingAndGlyphs" font-size="22.4" fill="#1b9dd9" stroke="#fff" stroke-width="0.27" paint-order="fill stroke">and PY14</text>
<text x="903.05" y="125.60" textLength="9.00" lengthAdjust="spacingAndGlyphs" font-size="16" fill="#1b9dd9" stroke="#fff" stroke-width="0.27" paint-order="fill stroke">+</text>
<text x="1033.75" y="97.90" textLength="216.00" lengthAdjust="spacingAndGlyphs" font-size="22.4" fill="#e83a41" stroke="#fff" stroke-width="0.27" paint-order="fill stroke">Structural distortion</text>
<text x="1030.20" y="137.20" textLength="86.00" lengthAdjust="spacingAndGlyphs" font-size="22.4" fill="#e83a41" stroke="#fff" stroke-width="0.27" paint-order="fill stroke">by MgCl</text>
<text x="1116.15" y="127.47" textLength="9.50" lengthAdjust="spacingAndGlyphs" font-size="16" fill="#e83a41" stroke="#fff" stroke-width="0.27" paint-order="fill stroke">+</text>
<text x="1132.15" y="137.20" textLength="134.00" lengthAdjust="spacingAndGlyphs" font-size="22.4" fill="#e83a41" stroke="#fff" stroke-width="0.27" paint-order="fill stroke">intercalation</text>
<text x="89.00" y="487.10" textLength="60.00" lengthAdjust="spacingAndGlyphs" font-size="21.8" fill="#e65a30" stroke="#e65a30" stroke-width="0.25">Stage</text>
<text x="154.60" y="487.10" textLength="14.50" lengthAdjust="spacingAndGlyphs" font-size="21.8" fill="#e65a30" font-weight="bold">0</text>
<text x="73.65" y="518.75" textLength="10.25" lengthAdjust="spacingAndGlyphs" font-size="23" fill="#e65a30" font-style="italic" stroke="#fff" stroke-width="0.27" paint-order="fill stroke">c</text>
<text x="90.85" y="518.75" textLength="87.25" lengthAdjust="spacingAndGlyphs" font-size="23" fill="#e65a30" stroke="#fff" stroke-width="0.27" paint-order="fill stroke">= 5.69 Å</text>
<text x="422.50" y="489.60" textLength="59.75" lengthAdjust="spacingAndGlyphs" font-size="21.8" fill="#149b50" stroke="#149b50" stroke-width="0.25">Stage</text>
<text x="488.70" y="489.60" textLength="13.25" lengthAdjust="spacingAndGlyphs" font-size="21.8" fill="#149b50" font-weight="bold">1</text>
<text x="400.10" y="521.90" textLength="10.25" lengthAdjust="spacingAndGlyphs" font-size="23" fill="#149b50" font-style="italic" stroke="#fff" stroke-width="0.27" paint-order="fill stroke">c</text>
<text x="417.05" y="521.90" textLength="100.75" lengthAdjust="spacingAndGlyphs" font-size="23" fill="#149b50" stroke="#fff" stroke-width="0.27" paint-order="fill stroke">= 10.86 Å</text>
<text x="763.60" y="490.20" textLength="60.25" lengthAdjust="spacingAndGlyphs" font-size="21.8" fill="#1b9dd9" stroke="#1b9dd9" stroke-width="0.25">Stage</text>
<text x="830.50" y="490.20" textLength="13.25" lengthAdjust="spacingAndGlyphs" font-size="21.8" fill="#1b9dd9" font-weight="bold">2</text>
<text x="745.30" y="522.90" textLength="10.25" lengthAdjust="spacingAndGlyphs" font-size="23" fill="#1b9dd9" font-style="italic" stroke="#fff" stroke-width="0.27" paint-order="fill stroke">c</text>
<text x="762.25" y="522.90" textLength="100.00" lengthAdjust="spacingAndGlyphs" font-size="23" fill="#1b9dd9" stroke="#fff" stroke-width="0.27" paint-order="fill stroke">= 18.63 Å</text>
<text x="1100.90" y="485.80" textLength="60.00" lengthAdjust="spacingAndGlyphs" font-size="21.8" fill="#e83a41" stroke="#e83a41" stroke-width="0.25">Stage</text>
<text x="1167.60" y="485.80" textLength="12.75" lengthAdjust="spacingAndGlyphs" font-size="21.8" fill="#e83a41" font-weight="bold">3</text>
<text x="1081.95" y="518.30" textLength="10.00" lengthAdjust="spacingAndGlyphs" font-size="23" fill="#e83a41" font-style="italic" stroke="#fff" stroke-width="0.27" paint-order="fill stroke">c</text>
<text x="1099.15" y="518.30" textLength="100.50" lengthAdjust="spacingAndGlyphs" font-size="23" fill="#e83a41" stroke="#fff" stroke-width="0.27" paint-order="fill stroke">= 18.63 Å</text>
<text x="1378.30" y="245.20" textLength="27.75" lengthAdjust="spacingAndGlyphs" font-size="22.8" fill="#1a1a1a" stroke="#fff" stroke-width="0.12" paint-order="fill stroke">TiS</text>
<text x="1407.55" y="254.20" textLength="7.75" lengthAdjust="spacingAndGlyphs" font-size="11.7" fill="#1a1a1a" stroke="#fff" stroke-width="0.12" paint-order="fill stroke">2</text>
<text x="1376.80" y="296.50" textLength="54.75" lengthAdjust="spacingAndGlyphs" font-size="22.8" fill="#1a1a1a" stroke="#fff" stroke-width="0.12" paint-order="fill stroke">MgCl</text>
<text x="1430.55" y="289.60" textLength="9.50" lengthAdjust="spacingAndGlyphs" font-size="16" fill="#1a1a1a" stroke="#fff" stroke-width="0.12" paint-order="fill stroke">+</text>
<text x="1377.05" y="348.40" textLength="52.75" lengthAdjust="spacingAndGlyphs" font-size="22.8" fill="#1a1a1a" stroke="#fff" stroke-width="0.12" paint-order="fill stroke">PY14</text>
<text x="1430.05" y="342.10" textLength="9.25" lengthAdjust="spacingAndGlyphs" font-size="16" fill="#1a1a1a" stroke="#fff" stroke-width="0.12" paint-order="fill stroke">+</text>
<text x="1376.60" y="397.10" textLength="40.25" lengthAdjust="spacingAndGlyphs" font-size="22.8" fill="#1a1a1a" stroke="#fff" stroke-width="0.12" paint-order="fill stroke">THF</text>
</svg></body></html>
